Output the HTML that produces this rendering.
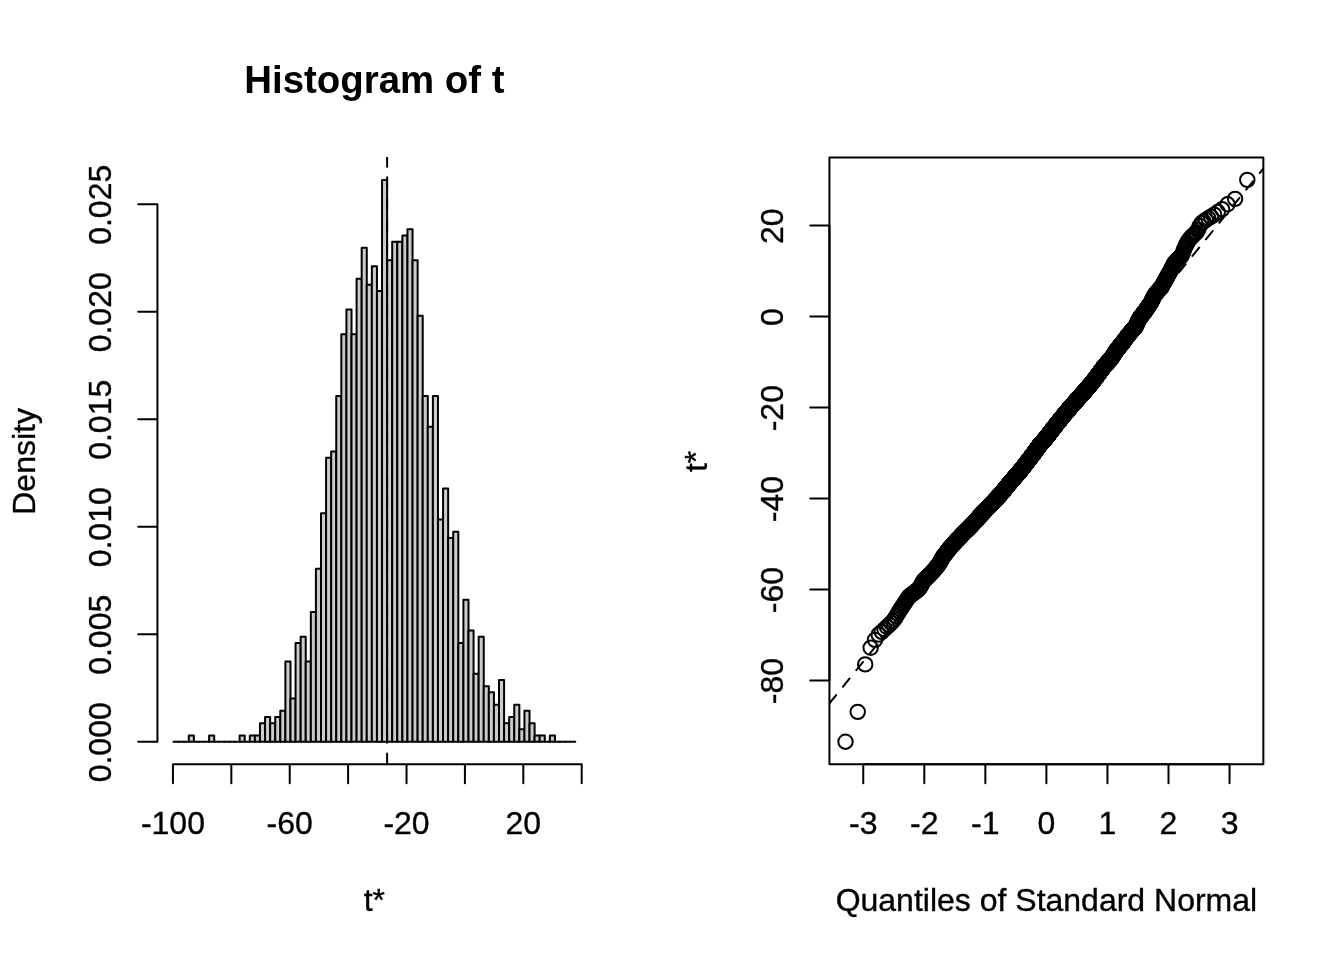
<!DOCTYPE html>
<html lang="en"><head><meta charset="utf-8"><title>Histogram of t</title>
<style>
html,body{margin:0;padding:0;background:#fff;}
body{width:1344px;height:960px;overflow:hidden;}
svg{display:block;}
text{font-family:"Liberation Sans",Arial,Helvetica,sans-serif;font-size:32px;fill:#000;stroke:#000;stroke-width:0.35px;}
.t{font-weight:bold;font-size:38.4px;stroke:none;}
.m{text-anchor:middle;}
.l{fill:none;stroke:#000;stroke-width:2;stroke-linecap:round;stroke-linejoin:round;}
.b{fill:#cbcbcb;stroke:#000;stroke-width:2;stroke-linejoin:round;stroke-linecap:round;}
.d{fill:none;stroke:#000;stroke-width:2;stroke-linecap:round;stroke-dasharray:10.67 10.67;}
.p{fill:none;stroke:#000;stroke-width:2;}
</style></head><body>
<svg width="1344" height="960" viewBox="0 0 1344 960">
<rect width="1344" height="960" fill="#fff"/>
<g id="hist">
<g class="b">
<path d="M173.51 741.69H178.6"/>
<path d="M178.6 741.69H183.68"/>
<path d="M183.68 741.69H188.77"/>
<rect x="188.77" y="735.52" width="5.09" height="6.17"/>
<path d="M193.85 741.69H198.94"/>
<path d="M198.94 741.69H204.03"/>
<path d="M204.03 741.69H209.11"/>
<rect x="209.11" y="735.52" width="5.09" height="6.17"/>
<path d="M214.2 741.69H219.28"/>
<path d="M219.28 741.69H224.37"/>
<path d="M224.37 741.69H229.45"/>
<path d="M229.45 741.69H234.54"/>
<path d="M234.54 741.69H239.63"/>
<rect x="239.63" y="735.52" width="5.09" height="6.17"/>
<path d="M244.71 741.69H249.8"/>
<rect x="249.8" y="735.52" width="5.09" height="6.17"/>
<rect x="254.88" y="735.52" width="5.09" height="6.17"/>
<rect x="259.97" y="723.17" width="5.09" height="18.52"/>
<rect x="265.06" y="717" width="5.09" height="24.69"/>
<rect x="270.14" y="723.17" width="5.09" height="18.52"/>
<rect x="275.23" y="717" width="5.09" height="24.69"/>
<rect x="280.31" y="710.82" width="5.09" height="30.87"/>
<rect x="285.4" y="661.43" width="5.09" height="80.25"/>
<rect x="290.48" y="698.48" width="5.09" height="43.21"/>
<rect x="295.57" y="642.91" width="5.09" height="98.77"/>
<rect x="300.66" y="636.74" width="5.09" height="104.95"/>
<rect x="305.74" y="661.43" width="5.09" height="80.25"/>
<rect x="310.83" y="612.05" width="5.09" height="129.64"/>
<rect x="315.91" y="568.83" width="5.09" height="172.85"/>
<rect x="321" y="513.27" width="5.09" height="228.42"/>
<rect x="326.08" y="457.71" width="5.09" height="283.98"/>
<rect x="331.17" y="451.54" width="5.09" height="290.15"/>
<rect x="336.26" y="395.98" width="5.09" height="345.71"/>
<rect x="341.34" y="334.25" width="5.09" height="407.44"/>
<rect x="346.43" y="309.55" width="5.09" height="432.14"/>
<rect x="351.51" y="334.25" width="5.09" height="407.44"/>
<rect x="356.6" y="278.69" width="5.09" height="463"/>
<rect x="361.69" y="247.82" width="5.09" height="493.87"/>
<rect x="366.77" y="284.86" width="5.09" height="456.83"/>
<rect x="371.86" y="266.34" width="5.09" height="475.35"/>
<rect x="376.94" y="291.03" width="5.09" height="450.66"/>
<rect x="382.03" y="179.91" width="5.09" height="561.78"/>
<rect x="387.11" y="260.17" width="5.09" height="481.52"/>
<rect x="392.2" y="241.64" width="5.09" height="500.04"/>
<rect x="397.29" y="241.64" width="5.09" height="500.04"/>
<rect x="402.37" y="235.47" width="5.09" height="506.22"/>
<rect x="407.46" y="229.3" width="5.09" height="512.39"/>
<rect x="412.54" y="260.17" width="5.09" height="481.52"/>
<rect x="417.63" y="315.73" width="5.09" height="425.96"/>
<rect x="422.72" y="395.98" width="5.09" height="345.71"/>
<rect x="427.8" y="426.85" width="5.09" height="314.84"/>
<rect x="432.89" y="395.98" width="5.09" height="345.71"/>
<rect x="437.97" y="519.45" width="5.09" height="222.24"/>
<rect x="443.06" y="488.58" width="5.09" height="253.11"/>
<rect x="448.14" y="537.97" width="5.09" height="203.72"/>
<rect x="453.23" y="531.79" width="5.09" height="209.89"/>
<rect x="458.32" y="642.91" width="5.09" height="98.77"/>
<rect x="463.4" y="599.7" width="5.09" height="141.99"/>
<rect x="468.49" y="630.57" width="5.09" height="111.12"/>
<rect x="473.57" y="673.78" width="5.09" height="67.91"/>
<rect x="478.66" y="636.74" width="5.09" height="104.95"/>
<rect x="483.74" y="686.13" width="5.09" height="55.56"/>
<rect x="488.83" y="692.3" width="5.09" height="49.39"/>
<rect x="493.92" y="704.65" width="5.09" height="37.04"/>
<rect x="499" y="679.96" width="5.09" height="61.73"/>
<rect x="504.09" y="723.17" width="5.09" height="18.52"/>
<rect x="509.17" y="717" width="5.09" height="24.69"/>
<rect x="514.26" y="704.65" width="5.09" height="37.04"/>
<rect x="519.35" y="729.34" width="5.09" height="12.35"/>
<rect x="524.43" y="710.82" width="5.09" height="30.87"/>
<rect x="529.52" y="723.17" width="5.09" height="18.52"/>
<rect x="534.6" y="735.52" width="5.09" height="6.17"/>
<rect x="539.69" y="735.52" width="5.09" height="6.17"/>
<path d="M544.77 741.69H549.86"/>
<rect x="549.86" y="735.52" width="5.09" height="6.17"/>
<path d="M554.95 741.69H560.03"/>
<path d="M560.03 741.69H565.12"/>
<path d="M565.12 741.69H570.2"/>
<path d="M570.2 741.69H575.29"/>
</g>
<path class="l" d="M172.94 764.16H581.7M172.94 764.16v19.2M231.33 764.16v19.2M289.73 764.16v19.2M348.12 764.16v19.2M406.52 764.16v19.2M464.91 764.16v19.2M523.31 764.16v19.2M581.7 764.16v19.2"/>
<text class="m" x="172.94" y="834.28">-100</text>
<text class="m" x="289.73" y="834.28">-60</text>
<text class="m" x="406.52" y="834.28">-20</text>
<text class="m" x="523.31" y="834.28">20</text>
<path class="l" d="M157.44 741.69V204.2M157.44 741.69h-19.2M157.44 634.19h-19.2M157.44 526.69h-19.2M157.44 419.2h-19.2M157.44 311.7h-19.2M157.44 204.2h-19.2"/>
<text class="m" transform="translate(111.36 742.29) rotate(-90)">0.000</text>
<text class="m" transform="translate(111.36 634.79) rotate(-90)">0.005</text>
<text class="m" transform="translate(111.36 527.29) rotate(-90)">0.010</text>
<text class="m" transform="translate(111.36 419.8) rotate(-90)">0.015</text>
<text class="m" transform="translate(111.36 312.3) rotate(-90)">0.020</text>
<text class="m" transform="translate(111.36 204.8) rotate(-90)">0.025</text>
<clipPath id="ch"><rect x="157.44" y="156.94" width="433.92" height="607.22"/></clipPath>
<path class="d" clip-path="url(#ch)" d="M387.11 764.16V157.44"/>
<text class="m t" x="374.4" y="92.5">Histogram of t</text>
<text class="m" x="374.4" y="911.08">t*</text>
<text class="m" transform="translate(34.56 461.4) rotate(-90)">Density</text>
</g>
<g id="qq">
<g class="p">
<circle cx="845.51" cy="741.69" r="7.2"/>
<circle cx="857.74" cy="711.88" r="7.2"/>
<circle cx="865.22" cy="664.4" r="7.2"/>
<circle cx="870.68" cy="647.77" r="7.2"/>
<circle cx="875.03" cy="639.85" r="7.2"/>
<circle cx="878.64" cy="634.56" r="7.2"/>
<circle cx="881.75" cy="631.92" r="7.2"/>
<circle cx="884.49" cy="629.28" r="7.2"/>
<circle cx="886.93" cy="626.97" r="7.2"/>
<circle cx="889.14" cy="624.99" r="7.2"/>
<circle cx="891.16" cy="623.01" r="7.2"/>
<circle cx="893.03" cy="621.03" r="7.2"/>
<circle cx="894.76" cy="618.72" r="7.2"/>
<circle cx="896.38" cy="616.08" r="7.2"/>
<circle cx="897.9" cy="613.43" r="7.2"/>
<circle cx="899.33" cy="611.12" r="7.2"/>
<circle cx="900.68" cy="609.14" r="7.2"/>
<circle cx="901.97" cy="607.16" r="7.2"/>
<circle cx="903.2" cy="605.18" r="7.2"/>
<circle cx="904.37" cy="603.4" r="7.2"/>
<circle cx="905.49" cy="601.81" r="7.2"/>
<circle cx="906.57" cy="600.23" r="7.2"/>
<circle cx="907.6" cy="598.64" r="7.2"/>
<circle cx="908.59" cy="597.06" r="7.2"/>
<circle cx="909.55" cy="595.96" r="7.2"/>
<circle cx="910.48" cy="595.35" r="7.2"/>
<circle cx="911.38" cy="594.74" r="7.2"/>
<circle cx="912.25" cy="594.13" r="7.2"/>
<circle cx="913.09" cy="593.52" r="7.2"/>
<circle cx="913.91" cy="592.91" r="7.2"/>
<circle cx="914.7" cy="592.3" r="7.2"/>
<circle cx="915.48" cy="591.69" r="7.2"/>
<circle cx="916.23" cy="591.09" r="7.2"/>
<circle cx="916.96" cy="590.48" r="7.2"/>
<circle cx="917.68" cy="589.87" r="7.2"/>
<circle cx="918.37" cy="589.26" r="7.2"/>
<circle cx="919.06" cy="588.65" r="7.2"/>
<circle cx="919.72" cy="587.78" r="7.2"/>
<circle cx="920.37" cy="586.64" r="7.2"/>
<circle cx="921.01" cy="585.51" r="7.2"/>
<circle cx="921.63" cy="584.38" r="7.2"/>
<circle cx="922.24" cy="583.25" r="7.2"/>
<circle cx="922.84" cy="582.12" r="7.2"/>
<circle cx="923.43" cy="580.98" r="7.2"/>
<circle cx="924.01" cy="580.17" r="7.2"/>
<circle cx="924.57" cy="579.68" r="7.2"/>
<circle cx="925.13" cy="579.18" r="7.2"/>
<circle cx="925.67" cy="578.69" r="7.2"/>
<circle cx="926.21" cy="578.19" r="7.2"/>
<circle cx="926.73" cy="577.69" r="7.2"/>
<circle cx="927.25" cy="577.2" r="7.2"/>
<circle cx="927.76" cy="576.7" r="7.2"/>
<circle cx="928.26" cy="576.21" r="7.2"/>
<circle cx="928.76" cy="575.71" r="7.2"/>
<circle cx="929.24" cy="575.22" r="7.2"/>
<circle cx="929.72" cy="574.72" r="7.2"/>
<circle cx="930.19" cy="574.23" r="7.2"/>
<circle cx="930.66" cy="573.73" r="7.2"/>
<circle cx="931.12" cy="573.24" r="7.2"/>
<circle cx="931.57" cy="572.74" r="7.2"/>
<circle cx="932.01" cy="572.26" r="7.2"/>
<circle cx="932.45" cy="571.8" r="7.2"/>
<circle cx="932.89" cy="571.33" r="7.2"/>
<circle cx="933.31" cy="570.86" r="7.2"/>
<circle cx="933.74" cy="570.4" r="7.2"/>
<circle cx="934.15" cy="569.93" r="7.2"/>
<circle cx="934.57" cy="569.47" r="7.2"/>
<circle cx="934.97" cy="569" r="7.2"/>
<circle cx="935.38" cy="568.53" r="7.2"/>
<circle cx="935.77" cy="568.07" r="7.2"/>
<circle cx="936.17" cy="567.6" r="7.2"/>
<circle cx="936.55" cy="567.13" r="7.2"/>
<circle cx="936.94" cy="566.67" r="7.2"/>
<circle cx="937.32" cy="566.2" r="7.2"/>
<circle cx="937.69" cy="565.74" r="7.2"/>
<circle cx="938.06" cy="565.27" r="7.2"/>
<circle cx="938.43" cy="564.8" r="7.2"/>
<circle cx="938.79" cy="564.27" r="7.2"/>
<circle cx="939.15" cy="563.66" r="7.2"/>
<circle cx="939.51" cy="563.05" r="7.2"/>
<circle cx="939.86" cy="562.44" r="7.2"/>
<circle cx="940.21" cy="561.83" r="7.2"/>
<circle cx="940.56" cy="561.22" r="7.2"/>
<circle cx="940.9" cy="560.61" r="7.2"/>
<circle cx="941.24" cy="560" r="7.2"/>
<circle cx="941.57" cy="559.39" r="7.2"/>
<circle cx="941.91" cy="558.78" r="7.2"/>
<circle cx="942.23" cy="558.17" r="7.2"/>
<circle cx="942.56" cy="557.56" r="7.2"/>
<circle cx="942.88" cy="556.95" r="7.2"/>
<circle cx="943.21" cy="556.46" r="7.2"/>
<circle cx="943.52" cy="556.08" r="7.2"/>
<circle cx="943.84" cy="555.7" r="7.2"/>
<circle cx="944.15" cy="555.33" r="7.2"/>
<circle cx="944.46" cy="554.95" r="7.2"/>
<circle cx="944.77" cy="554.57" r="7.2"/>
<circle cx="945.07" cy="554.19" r="7.2"/>
<circle cx="945.37" cy="553.82" r="7.2"/>
<circle cx="945.67" cy="553.44" r="7.2"/>
<circle cx="945.97" cy="553.06" r="7.2"/>
<circle cx="946.26" cy="552.69" r="7.2"/>
<circle cx="946.56" cy="552.31" r="7.2"/>
<circle cx="946.85" cy="551.93" r="7.2"/>
<circle cx="947.14" cy="551.55" r="7.2"/>
<circle cx="947.42" cy="551.18" r="7.2"/>
<circle cx="947.7" cy="550.8" r="7.2"/>
<circle cx="947.99" cy="550.42" r="7.2"/>
<circle cx="948.27" cy="550.04" r="7.2"/>
<circle cx="948.54" cy="549.67" r="7.2"/>
<circle cx="948.82" cy="549.29" r="7.2"/>
<circle cx="949.09" cy="548.91" r="7.2"/>
<circle cx="949.36" cy="548.58" r="7.2"/>
<circle cx="949.63" cy="548.3" r="7.2"/>
<circle cx="949.9" cy="548.02" r="7.2"/>
<circle cx="950.17" cy="547.73" r="7.2"/>
<circle cx="950.43" cy="547.45" r="7.2"/>
<circle cx="950.69" cy="547.17" r="7.2"/>
<circle cx="950.95" cy="546.88" r="7.2"/>
<circle cx="951.21" cy="546.6" r="7.2"/>
<circle cx="951.47" cy="546.32" r="7.2"/>
<circle cx="951.72" cy="546.03" r="7.2"/>
<circle cx="951.98" cy="545.75" r="7.2"/>
<circle cx="952.23" cy="545.47" r="7.2"/>
<circle cx="952.48" cy="545.19" r="7.2"/>
<circle cx="952.73" cy="544.9" r="7.2"/>
<circle cx="952.98" cy="544.62" r="7.2"/>
<circle cx="953.22" cy="544.34" r="7.2"/>
<circle cx="953.47" cy="544.05" r="7.2"/>
<circle cx="953.71" cy="543.77" r="7.2"/>
<circle cx="953.95" cy="543.49" r="7.2"/>
<circle cx="954.19" cy="543.2" r="7.2"/>
<circle cx="954.43" cy="542.92" r="7.2"/>
<circle cx="954.67" cy="542.64" r="7.2"/>
<circle cx="954.9" cy="542.36" r="7.2"/>
<circle cx="955.14" cy="542.07" r="7.2"/>
<circle cx="955.37" cy="541.79" r="7.2"/>
<circle cx="955.6" cy="541.51" r="7.2"/>
<circle cx="955.83" cy="541.22" r="7.2"/>
<circle cx="956.06" cy="540.94" r="7.2"/>
<circle cx="956.29" cy="540.69" r="7.2"/>
<circle cx="956.52" cy="540.48" r="7.2"/>
<circle cx="956.74" cy="540.26" r="7.2"/>
<circle cx="956.97" cy="540.05" r="7.2"/>
<circle cx="957.19" cy="539.84" r="7.2"/>
<circle cx="957.41" cy="539.62" r="7.2"/>
<circle cx="957.63" cy="539.41" r="7.2"/>
<circle cx="957.85" cy="539.19" r="7.2"/>
<circle cx="958.07" cy="538.98" r="7.2"/>
<circle cx="958.29" cy="538.77" r="7.2"/>
<circle cx="958.5" cy="538.55" r="7.2"/>
<circle cx="958.72" cy="538.34" r="7.2"/>
<circle cx="958.93" cy="538.12" r="7.2"/>
<circle cx="959.15" cy="537.91" r="7.2"/>
<circle cx="959.36" cy="537.69" r="7.2"/>
<circle cx="959.57" cy="537.48" r="7.2"/>
<circle cx="959.78" cy="537.27" r="7.2"/>
<circle cx="959.99" cy="537.05" r="7.2"/>
<circle cx="960.19" cy="536.84" r="7.2"/>
<circle cx="960.4" cy="536.62" r="7.2"/>
<circle cx="960.61" cy="536.41" r="7.2"/>
<circle cx="960.81" cy="536.2" r="7.2"/>
<circle cx="961.02" cy="535.98" r="7.2"/>
<circle cx="961.22" cy="535.77" r="7.2"/>
<circle cx="961.42" cy="535.55" r="7.2"/>
<circle cx="961.62" cy="535.34" r="7.2"/>
<circle cx="961.82" cy="535.12" r="7.2"/>
<circle cx="962.02" cy="534.91" r="7.2"/>
<circle cx="962.22" cy="534.7" r="7.2"/>
<circle cx="962.42" cy="534.48" r="7.2"/>
<circle cx="962.61" cy="534.27" r="7.2"/>
<circle cx="962.81" cy="534.05" r="7.2"/>
<circle cx="963" cy="533.84" r="7.2"/>
<circle cx="963.2" cy="533.63" r="7.2"/>
<circle cx="963.39" cy="533.41" r="7.2"/>
<circle cx="963.58" cy="533.2" r="7.2"/>
<circle cx="963.77" cy="532.98" r="7.2"/>
<circle cx="963.97" cy="532.79" r="7.2"/>
<circle cx="964.16" cy="532.62" r="7.2"/>
<circle cx="964.34" cy="532.45" r="7.2"/>
<circle cx="964.53" cy="532.27" r="7.2"/>
<circle cx="964.72" cy="532.1" r="7.2"/>
<circle cx="964.91" cy="531.93" r="7.2"/>
<circle cx="965.09" cy="531.76" r="7.2"/>
<circle cx="965.28" cy="531.58" r="7.2"/>
<circle cx="965.46" cy="531.41" r="7.2"/>
<circle cx="965.65" cy="531.24" r="7.2"/>
<circle cx="965.83" cy="531.07" r="7.2"/>
<circle cx="966.01" cy="530.89" r="7.2"/>
<circle cx="966.19" cy="530.72" r="7.2"/>
<circle cx="966.37" cy="530.55" r="7.2"/>
<circle cx="966.55" cy="530.38" r="7.2"/>
<circle cx="966.73" cy="530.21" r="7.2"/>
<circle cx="966.91" cy="530.03" r="7.2"/>
<circle cx="967.09" cy="529.86" r="7.2"/>
<circle cx="967.27" cy="529.69" r="7.2"/>
<circle cx="967.45" cy="529.52" r="7.2"/>
<circle cx="967.62" cy="529.34" r="7.2"/>
<circle cx="967.8" cy="529.17" r="7.2"/>
<circle cx="967.97" cy="529" r="7.2"/>
<circle cx="968.15" cy="528.83" r="7.2"/>
<circle cx="968.32" cy="528.66" r="7.2"/>
<circle cx="968.49" cy="528.48" r="7.2"/>
<circle cx="968.67" cy="528.31" r="7.2"/>
<circle cx="968.84" cy="528.14" r="7.2"/>
<circle cx="969.01" cy="527.97" r="7.2"/>
<circle cx="969.18" cy="527.79" r="7.2"/>
<circle cx="969.35" cy="527.62" r="7.2"/>
<circle cx="969.52" cy="527.45" r="7.2"/>
<circle cx="969.69" cy="527.28" r="7.2"/>
<circle cx="969.85" cy="527.11" r="7.2"/>
<circle cx="970.02" cy="526.93" r="7.2"/>
<circle cx="970.19" cy="526.76" r="7.2"/>
<circle cx="970.36" cy="526.59" r="7.2"/>
<circle cx="970.52" cy="526.42" r="7.2"/>
<circle cx="970.69" cy="526.24" r="7.2"/>
<circle cx="970.85" cy="526.07" r="7.2"/>
<circle cx="971.02" cy="525.9" r="7.2"/>
<circle cx="971.18" cy="525.73" r="7.2"/>
<circle cx="971.34" cy="525.55" r="7.2"/>
<circle cx="971.5" cy="525.38" r="7.2"/>
<circle cx="971.67" cy="525.21" r="7.2"/>
<circle cx="971.83" cy="525.04" r="7.2"/>
<circle cx="971.99" cy="524.87" r="7.2"/>
<circle cx="972.15" cy="524.7" r="7.2"/>
<circle cx="972.31" cy="524.53" r="7.2"/>
<circle cx="972.47" cy="524.36" r="7.2"/>
<circle cx="972.63" cy="524.19" r="7.2"/>
<circle cx="972.79" cy="524.02" r="7.2"/>
<circle cx="972.94" cy="523.86" r="7.2"/>
<circle cx="973.1" cy="523.69" r="7.2"/>
<circle cx="973.26" cy="523.52" r="7.2"/>
<circle cx="973.42" cy="523.35" r="7.2"/>
<circle cx="973.57" cy="523.18" r="7.2"/>
<circle cx="973.73" cy="523.01" r="7.2"/>
<circle cx="973.88" cy="522.84" r="7.2"/>
<circle cx="974.04" cy="522.68" r="7.2"/>
<circle cx="974.19" cy="522.51" r="7.2"/>
<circle cx="974.34" cy="522.34" r="7.2"/>
<circle cx="974.5" cy="522.17" r="7.2"/>
<circle cx="974.65" cy="522" r="7.2"/>
<circle cx="974.8" cy="521.83" r="7.2"/>
<circle cx="974.96" cy="521.66" r="7.2"/>
<circle cx="975.11" cy="521.5" r="7.2"/>
<circle cx="975.26" cy="521.33" r="7.2"/>
<circle cx="975.41" cy="521.16" r="7.2"/>
<circle cx="975.56" cy="520.99" r="7.2"/>
<circle cx="975.71" cy="520.82" r="7.2"/>
<circle cx="975.86" cy="520.65" r="7.2"/>
<circle cx="976.01" cy="520.48" r="7.2"/>
<circle cx="976.15" cy="520.32" r="7.2"/>
<circle cx="976.3" cy="520.15" r="7.2"/>
<circle cx="976.45" cy="519.98" r="7.2"/>
<circle cx="976.6" cy="519.81" r="7.2"/>
<circle cx="976.74" cy="519.64" r="7.2"/>
<circle cx="976.89" cy="519.47" r="7.2"/>
<circle cx="977.04" cy="519.3" r="7.2"/>
<circle cx="977.18" cy="519.14" r="7.2"/>
<circle cx="977.33" cy="518.97" r="7.2"/>
<circle cx="977.47" cy="518.8" r="7.2"/>
<circle cx="977.62" cy="518.63" r="7.2"/>
<circle cx="977.76" cy="518.46" r="7.2"/>
<circle cx="977.91" cy="518.29" r="7.2"/>
<circle cx="978.05" cy="518.12" r="7.2"/>
<circle cx="978.19" cy="517.96" r="7.2"/>
<circle cx="978.33" cy="517.79" r="7.2"/>
<circle cx="978.48" cy="517.62" r="7.2"/>
<circle cx="978.62" cy="517.45" r="7.2"/>
<circle cx="978.76" cy="517.28" r="7.2"/>
<circle cx="978.9" cy="517.11" r="7.2"/>
<circle cx="979.04" cy="516.96" r="7.2"/>
<circle cx="979.18" cy="516.82" r="7.2"/>
<circle cx="979.32" cy="516.67" r="7.2"/>
<circle cx="979.46" cy="516.53" r="7.2"/>
<circle cx="979.6" cy="516.39" r="7.2"/>
<circle cx="979.74" cy="516.25" r="7.2"/>
<circle cx="979.88" cy="516.11" r="7.2"/>
<circle cx="980.02" cy="515.97" r="7.2"/>
<circle cx="980.15" cy="515.83" r="7.2"/>
<circle cx="980.29" cy="515.68" r="7.2"/>
<circle cx="980.43" cy="515.54" r="7.2"/>
<circle cx="980.57" cy="515.4" r="7.2"/>
<circle cx="980.7" cy="515.26" r="7.2"/>
<circle cx="980.84" cy="515.12" r="7.2"/>
<circle cx="980.98" cy="514.98" r="7.2"/>
<circle cx="981.11" cy="514.83" r="7.2"/>
<circle cx="981.25" cy="514.69" r="7.2"/>
<circle cx="981.38" cy="514.55" r="7.2"/>
<circle cx="981.52" cy="514.41" r="7.2"/>
<circle cx="981.65" cy="514.27" r="7.2"/>
<circle cx="981.78" cy="514.13" r="7.2"/>
<circle cx="981.92" cy="513.99" r="7.2"/>
<circle cx="982.05" cy="513.84" r="7.2"/>
<circle cx="982.18" cy="513.7" r="7.2"/>
<circle cx="982.32" cy="513.56" r="7.2"/>
<circle cx="982.45" cy="513.42" r="7.2"/>
<circle cx="982.58" cy="513.28" r="7.2"/>
<circle cx="982.71" cy="513.14" r="7.2"/>
<circle cx="982.85" cy="513" r="7.2"/>
<circle cx="982.98" cy="512.85" r="7.2"/>
<circle cx="983.11" cy="512.71" r="7.2"/>
<circle cx="983.24" cy="512.57" r="7.2"/>
<circle cx="983.37" cy="512.43" r="7.2"/>
<circle cx="983.5" cy="512.29" r="7.2"/>
<circle cx="983.63" cy="512.15" r="7.2"/>
<circle cx="983.76" cy="512" r="7.2"/>
<circle cx="983.89" cy="511.86" r="7.2"/>
<circle cx="984.02" cy="511.72" r="7.2"/>
<circle cx="984.15" cy="511.58" r="7.2"/>
<circle cx="984.27" cy="511.44" r="7.2"/>
<circle cx="984.4" cy="511.3" r="7.2"/>
<circle cx="984.53" cy="511.16" r="7.2"/>
<circle cx="984.66" cy="511.01" r="7.2"/>
<circle cx="984.79" cy="510.87" r="7.2"/>
<circle cx="984.91" cy="510.73" r="7.2"/>
<circle cx="985.04" cy="510.59" r="7.2"/>
<circle cx="985.17" cy="510.45" r="7.2"/>
<circle cx="985.29" cy="510.31" r="7.2"/>
<circle cx="985.42" cy="510.17" r="7.2"/>
<circle cx="985.54" cy="510.02" r="7.2"/>
<circle cx="985.67" cy="509.88" r="7.2"/>
<circle cx="985.8" cy="509.74" r="7.2"/>
<circle cx="985.92" cy="509.6" r="7.2"/>
<circle cx="986.05" cy="509.46" r="7.2"/>
<circle cx="986.17" cy="509.32" r="7.2"/>
<circle cx="986.29" cy="509.17" r="7.2"/>
<circle cx="986.42" cy="509.04" r="7.2"/>
<circle cx="986.54" cy="508.92" r="7.2"/>
<circle cx="986.67" cy="508.8" r="7.2"/>
<circle cx="986.79" cy="508.68" r="7.2"/>
<circle cx="986.91" cy="508.56" r="7.2"/>
<circle cx="987.03" cy="508.44" r="7.2"/>
<circle cx="987.16" cy="508.32" r="7.2"/>
<circle cx="987.28" cy="508.2" r="7.2"/>
<circle cx="987.4" cy="508.08" r="7.2"/>
<circle cx="987.52" cy="507.96" r="7.2"/>
<circle cx="987.65" cy="507.84" r="7.2"/>
<circle cx="987.77" cy="507.72" r="7.2"/>
<circle cx="987.89" cy="507.6" r="7.2"/>
<circle cx="988.01" cy="507.48" r="7.2"/>
<circle cx="988.13" cy="507.36" r="7.2"/>
<circle cx="988.25" cy="507.24" r="7.2"/>
<circle cx="988.37" cy="507.12" r="7.2"/>
<circle cx="988.49" cy="507" r="7.2"/>
<circle cx="988.61" cy="506.88" r="7.2"/>
<circle cx="988.73" cy="506.76" r="7.2"/>
<circle cx="988.85" cy="506.64" r="7.2"/>
<circle cx="988.97" cy="506.52" r="7.2"/>
<circle cx="989.09" cy="506.4" r="7.2"/>
<circle cx="989.21" cy="506.28" r="7.2"/>
<circle cx="989.32" cy="506.16" r="7.2"/>
<circle cx="989.44" cy="506.04" r="7.2"/>
<circle cx="989.56" cy="505.92" r="7.2"/>
<circle cx="989.68" cy="505.8" r="7.2"/>
<circle cx="989.8" cy="505.68" r="7.2"/>
<circle cx="989.91" cy="505.56" r="7.2"/>
<circle cx="990.03" cy="505.44" r="7.2"/>
<circle cx="990.15" cy="505.32" r="7.2"/>
<circle cx="990.26" cy="505.2" r="7.2"/>
<circle cx="990.38" cy="505.08" r="7.2"/>
<circle cx="990.5" cy="504.96" r="7.2"/>
<circle cx="990.61" cy="504.84" r="7.2"/>
<circle cx="990.73" cy="504.72" r="7.2"/>
<circle cx="990.85" cy="504.6" r="7.2"/>
<circle cx="990.96" cy="504.48" r="7.2"/>
<circle cx="991.08" cy="504.36" r="7.2"/>
<circle cx="991.19" cy="504.24" r="7.2"/>
<circle cx="991.31" cy="504.12" r="7.2"/>
<circle cx="991.42" cy="504" r="7.2"/>
<circle cx="991.54" cy="503.88" r="7.2"/>
<circle cx="991.65" cy="503.76" r="7.2"/>
<circle cx="991.77" cy="503.64" r="7.2"/>
<circle cx="991.88" cy="503.52" r="7.2"/>
<circle cx="991.99" cy="503.4" r="7.2"/>
<circle cx="992.11" cy="503.28" r="7.2"/>
<circle cx="992.22" cy="503.16" r="7.2"/>
<circle cx="992.33" cy="503.04" r="7.2"/>
<circle cx="992.45" cy="502.92" r="7.2"/>
<circle cx="992.56" cy="502.8" r="7.2"/>
<circle cx="992.67" cy="502.68" r="7.2"/>
<circle cx="992.78" cy="502.56" r="7.2"/>
<circle cx="992.9" cy="502.44" r="7.2"/>
<circle cx="993.01" cy="502.32" r="7.2"/>
<circle cx="993.12" cy="502.2" r="7.2"/>
<circle cx="993.23" cy="502.08" r="7.2"/>
<circle cx="993.34" cy="501.96" r="7.2"/>
<circle cx="993.46" cy="501.84" r="7.2"/>
<circle cx="993.57" cy="501.72" r="7.2"/>
<circle cx="993.68" cy="501.6" r="7.2"/>
<circle cx="993.79" cy="501.48" r="7.2"/>
<circle cx="993.9" cy="501.36" r="7.2"/>
<circle cx="994.01" cy="501.24" r="7.2"/>
<circle cx="994.12" cy="501.12" r="7.2"/>
<circle cx="994.23" cy="501.01" r="7.2"/>
<circle cx="994.34" cy="500.9" r="7.2"/>
<circle cx="994.45" cy="500.78" r="7.2"/>
<circle cx="994.56" cy="500.67" r="7.2"/>
<circle cx="994.67" cy="500.56" r="7.2"/>
<circle cx="994.78" cy="500.44" r="7.2"/>
<circle cx="994.89" cy="500.33" r="7.2"/>
<circle cx="995" cy="500.22" r="7.2"/>
<circle cx="995.11" cy="500.11" r="7.2"/>
<circle cx="995.22" cy="499.99" r="7.2"/>
<circle cx="995.33" cy="499.88" r="7.2"/>
<circle cx="995.43" cy="499.77" r="7.2"/>
<circle cx="995.54" cy="499.65" r="7.2"/>
<circle cx="995.65" cy="499.54" r="7.2"/>
<circle cx="995.76" cy="499.43" r="7.2"/>
<circle cx="995.87" cy="499.31" r="7.2"/>
<circle cx="995.97" cy="499.2" r="7.2"/>
<circle cx="996.08" cy="499.09" r="7.2"/>
<circle cx="996.19" cy="498.97" r="7.2"/>
<circle cx="996.3" cy="498.86" r="7.2"/>
<circle cx="996.4" cy="498.75" r="7.2"/>
<circle cx="996.51" cy="498.63" r="7.2"/>
<circle cx="996.62" cy="498.52" r="7.2"/>
<circle cx="996.72" cy="498.41" r="7.2"/>
<circle cx="996.83" cy="498.29" r="7.2"/>
<circle cx="996.94" cy="498.18" r="7.2"/>
<circle cx="997.04" cy="498.07" r="7.2"/>
<circle cx="997.15" cy="497.95" r="7.2"/>
<circle cx="997.25" cy="497.84" r="7.2"/>
<circle cx="997.36" cy="497.73" r="7.2"/>
<circle cx="997.46" cy="497.61" r="7.2"/>
<circle cx="997.57" cy="497.5" r="7.2"/>
<circle cx="997.67" cy="497.39" r="7.2"/>
<circle cx="997.78" cy="497.28" r="7.2"/>
<circle cx="997.88" cy="497.16" r="7.2"/>
<circle cx="997.99" cy="497.05" r="7.2"/>
<circle cx="998.09" cy="496.94" r="7.2"/>
<circle cx="998.2" cy="496.82" r="7.2"/>
<circle cx="998.3" cy="496.71" r="7.2"/>
<circle cx="998.41" cy="496.6" r="7.2"/>
<circle cx="998.51" cy="496.48" r="7.2"/>
<circle cx="998.62" cy="496.37" r="7.2"/>
<circle cx="998.72" cy="496.26" r="7.2"/>
<circle cx="998.82" cy="496.14" r="7.2"/>
<circle cx="998.93" cy="496.03" r="7.2"/>
<circle cx="999.03" cy="495.92" r="7.2"/>
<circle cx="999.13" cy="495.8" r="7.2"/>
<circle cx="999.24" cy="495.69" r="7.2"/>
<circle cx="999.34" cy="495.58" r="7.2"/>
<circle cx="999.44" cy="495.46" r="7.2"/>
<circle cx="999.55" cy="495.35" r="7.2"/>
<circle cx="999.65" cy="495.24" r="7.2"/>
<circle cx="999.75" cy="495.12" r="7.2"/>
<circle cx="999.85" cy="495.01" r="7.2"/>
<circle cx="999.95" cy="494.9" r="7.2"/>
<circle cx="1000.06" cy="494.78" r="7.2"/>
<circle cx="1000.16" cy="494.67" r="7.2"/>
<circle cx="1000.26" cy="494.56" r="7.2"/>
<circle cx="1000.36" cy="494.45" r="7.2"/>
<circle cx="1000.46" cy="494.33" r="7.2"/>
<circle cx="1000.57" cy="494.22" r="7.2"/>
<circle cx="1000.67" cy="494.11" r="7.2"/>
<circle cx="1000.77" cy="493.99" r="7.2"/>
<circle cx="1000.87" cy="493.88" r="7.2"/>
<circle cx="1000.97" cy="493.77" r="7.2"/>
<circle cx="1001.07" cy="493.65" r="7.2"/>
<circle cx="1001.17" cy="493.54" r="7.2"/>
<circle cx="1001.27" cy="493.43" r="7.2"/>
<circle cx="1001.37" cy="493.31" r="7.2"/>
<circle cx="1001.47" cy="493.2" r="7.2"/>
<circle cx="1001.57" cy="493.08" r="7.2"/>
<circle cx="1001.67" cy="492.96" r="7.2"/>
<circle cx="1001.77" cy="492.84" r="7.2"/>
<circle cx="1001.87" cy="492.72" r="7.2"/>
<circle cx="1001.97" cy="492.6" r="7.2"/>
<circle cx="1002.07" cy="492.48" r="7.2"/>
<circle cx="1002.17" cy="492.36" r="7.2"/>
<circle cx="1002.27" cy="492.24" r="7.2"/>
<circle cx="1002.37" cy="492.12" r="7.2"/>
<circle cx="1002.47" cy="492" r="7.2"/>
<circle cx="1002.57" cy="491.88" r="7.2"/>
<circle cx="1002.67" cy="491.76" r="7.2"/>
<circle cx="1002.77" cy="491.64" r="7.2"/>
<circle cx="1002.86" cy="491.52" r="7.2"/>
<circle cx="1002.96" cy="491.4" r="7.2"/>
<circle cx="1003.06" cy="491.28" r="7.2"/>
<circle cx="1003.16" cy="491.16" r="7.2"/>
<circle cx="1003.26" cy="491.04" r="7.2"/>
<circle cx="1003.36" cy="490.92" r="7.2"/>
<circle cx="1003.45" cy="490.8" r="7.2"/>
<circle cx="1003.55" cy="490.68" r="7.2"/>
<circle cx="1003.65" cy="490.56" r="7.2"/>
<circle cx="1003.75" cy="490.44" r="7.2"/>
<circle cx="1003.85" cy="490.32" r="7.2"/>
<circle cx="1003.94" cy="490.2" r="7.2"/>
<circle cx="1004.04" cy="490.08" r="7.2"/>
<circle cx="1004.14" cy="489.96" r="7.2"/>
<circle cx="1004.23" cy="489.83" r="7.2"/>
<circle cx="1004.33" cy="489.71" r="7.2"/>
<circle cx="1004.43" cy="489.59" r="7.2"/>
<circle cx="1004.52" cy="489.47" r="7.2"/>
<circle cx="1004.62" cy="489.35" r="7.2"/>
<circle cx="1004.72" cy="489.23" r="7.2"/>
<circle cx="1004.81" cy="489.11" r="7.2"/>
<circle cx="1004.91" cy="488.99" r="7.2"/>
<circle cx="1005.01" cy="488.87" r="7.2"/>
<circle cx="1005.1" cy="488.75" r="7.2"/>
<circle cx="1005.2" cy="488.63" r="7.2"/>
<circle cx="1005.3" cy="488.51" r="7.2"/>
<circle cx="1005.39" cy="488.39" r="7.2"/>
<circle cx="1005.49" cy="488.27" r="7.2"/>
<circle cx="1005.58" cy="488.15" r="7.2"/>
<circle cx="1005.68" cy="488.03" r="7.2"/>
<circle cx="1005.77" cy="487.91" r="7.2"/>
<circle cx="1005.87" cy="487.79" r="7.2"/>
<circle cx="1005.96" cy="487.67" r="7.2"/>
<circle cx="1006.06" cy="487.55" r="7.2"/>
<circle cx="1006.16" cy="487.43" r="7.2"/>
<circle cx="1006.25" cy="487.31" r="7.2"/>
<circle cx="1006.34" cy="487.19" r="7.2"/>
<circle cx="1006.44" cy="487.07" r="7.2"/>
<circle cx="1006.53" cy="486.95" r="7.2"/>
<circle cx="1006.63" cy="486.83" r="7.2"/>
<circle cx="1006.72" cy="486.71" r="7.2"/>
<circle cx="1006.82" cy="486.59" r="7.2"/>
<circle cx="1006.91" cy="486.47" r="7.2"/>
<circle cx="1007.01" cy="486.35" r="7.2"/>
<circle cx="1007.1" cy="486.23" r="7.2"/>
<circle cx="1007.19" cy="486.11" r="7.2"/>
<circle cx="1007.29" cy="485.99" r="7.2"/>
<circle cx="1007.38" cy="485.87" r="7.2"/>
<circle cx="1007.48" cy="485.75" r="7.2"/>
<circle cx="1007.57" cy="485.63" r="7.2"/>
<circle cx="1007.66" cy="485.51" r="7.2"/>
<circle cx="1007.76" cy="485.39" r="7.2"/>
<circle cx="1007.85" cy="485.28" r="7.2"/>
<circle cx="1007.94" cy="485.17" r="7.2"/>
<circle cx="1008.04" cy="485.07" r="7.2"/>
<circle cx="1008.13" cy="484.96" r="7.2"/>
<circle cx="1008.22" cy="484.86" r="7.2"/>
<circle cx="1008.32" cy="484.75" r="7.2"/>
<circle cx="1008.41" cy="484.65" r="7.2"/>
<circle cx="1008.5" cy="484.54" r="7.2"/>
<circle cx="1008.59" cy="484.43" r="7.2"/>
<circle cx="1008.69" cy="484.33" r="7.2"/>
<circle cx="1008.78" cy="484.22" r="7.2"/>
<circle cx="1008.87" cy="484.12" r="7.2"/>
<circle cx="1008.96" cy="484.01" r="7.2"/>
<circle cx="1009.06" cy="483.91" r="7.2"/>
<circle cx="1009.15" cy="483.8" r="7.2"/>
<circle cx="1009.24" cy="483.7" r="7.2"/>
<circle cx="1009.33" cy="483.59" r="7.2"/>
<circle cx="1009.42" cy="483.48" r="7.2"/>
<circle cx="1009.52" cy="483.38" r="7.2"/>
<circle cx="1009.61" cy="483.27" r="7.2"/>
<circle cx="1009.7" cy="483.17" r="7.2"/>
<circle cx="1009.79" cy="483.06" r="7.2"/>
<circle cx="1009.88" cy="482.96" r="7.2"/>
<circle cx="1009.97" cy="482.85" r="7.2"/>
<circle cx="1010.07" cy="482.74" r="7.2"/>
<circle cx="1010.16" cy="482.64" r="7.2"/>
<circle cx="1010.25" cy="482.53" r="7.2"/>
<circle cx="1010.34" cy="482.43" r="7.2"/>
<circle cx="1010.43" cy="482.32" r="7.2"/>
<circle cx="1010.52" cy="482.22" r="7.2"/>
<circle cx="1010.61" cy="482.11" r="7.2"/>
<circle cx="1010.7" cy="482" r="7.2"/>
<circle cx="1010.79" cy="481.9" r="7.2"/>
<circle cx="1010.88" cy="481.79" r="7.2"/>
<circle cx="1010.97" cy="481.69" r="7.2"/>
<circle cx="1011.06" cy="481.58" r="7.2"/>
<circle cx="1011.16" cy="481.48" r="7.2"/>
<circle cx="1011.25" cy="481.37" r="7.2"/>
<circle cx="1011.34" cy="481.27" r="7.2"/>
<circle cx="1011.43" cy="481.16" r="7.2"/>
<circle cx="1011.52" cy="481.05" r="7.2"/>
<circle cx="1011.61" cy="480.95" r="7.2"/>
<circle cx="1011.7" cy="480.84" r="7.2"/>
<circle cx="1011.79" cy="480.74" r="7.2"/>
<circle cx="1011.88" cy="480.63" r="7.2"/>
<circle cx="1011.97" cy="480.53" r="7.2"/>
<circle cx="1012.05" cy="480.42" r="7.2"/>
<circle cx="1012.14" cy="480.31" r="7.2"/>
<circle cx="1012.23" cy="480.21" r="7.2"/>
<circle cx="1012.32" cy="480.1" r="7.2"/>
<circle cx="1012.41" cy="480" r="7.2"/>
<circle cx="1012.5" cy="479.89" r="7.2"/>
<circle cx="1012.59" cy="479.79" r="7.2"/>
<circle cx="1012.68" cy="479.68" r="7.2"/>
<circle cx="1012.77" cy="479.57" r="7.2"/>
<circle cx="1012.86" cy="479.47" r="7.2"/>
<circle cx="1012.95" cy="479.36" r="7.2"/>
<circle cx="1013.04" cy="479.26" r="7.2"/>
<circle cx="1013.12" cy="479.15" r="7.2"/>
<circle cx="1013.21" cy="479.05" r="7.2"/>
<circle cx="1013.3" cy="478.94" r="7.2"/>
<circle cx="1013.39" cy="478.84" r="7.2"/>
<circle cx="1013.48" cy="478.73" r="7.2"/>
<circle cx="1013.57" cy="478.62" r="7.2"/>
<circle cx="1013.66" cy="478.52" r="7.2"/>
<circle cx="1013.74" cy="478.41" r="7.2"/>
<circle cx="1013.83" cy="478.31" r="7.2"/>
<circle cx="1013.92" cy="478.2" r="7.2"/>
<circle cx="1014.01" cy="478.1" r="7.2"/>
<circle cx="1014.1" cy="477.99" r="7.2"/>
<circle cx="1014.18" cy="477.88" r="7.2"/>
<circle cx="1014.27" cy="477.78" r="7.2"/>
<circle cx="1014.36" cy="477.67" r="7.2"/>
<circle cx="1014.45" cy="477.57" r="7.2"/>
<circle cx="1014.54" cy="477.46" r="7.2"/>
<circle cx="1014.62" cy="477.36" r="7.2"/>
<circle cx="1014.71" cy="477.26" r="7.2"/>
<circle cx="1014.8" cy="477.16" r="7.2"/>
<circle cx="1014.89" cy="477.06" r="7.2"/>
<circle cx="1014.97" cy="476.96" r="7.2"/>
<circle cx="1015.06" cy="476.86" r="7.2"/>
<circle cx="1015.15" cy="476.77" r="7.2"/>
<circle cx="1015.23" cy="476.67" r="7.2"/>
<circle cx="1015.32" cy="476.57" r="7.2"/>
<circle cx="1015.41" cy="476.47" r="7.2"/>
<circle cx="1015.5" cy="476.37" r="7.2"/>
<circle cx="1015.58" cy="476.27" r="7.2"/>
<circle cx="1015.67" cy="476.17" r="7.2"/>
<circle cx="1015.76" cy="476.07" r="7.2"/>
<circle cx="1015.84" cy="475.97" r="7.2"/>
<circle cx="1015.93" cy="475.87" r="7.2"/>
<circle cx="1016.02" cy="475.77" r="7.2"/>
<circle cx="1016.1" cy="475.68" r="7.2"/>
<circle cx="1016.19" cy="475.58" r="7.2"/>
<circle cx="1016.28" cy="475.48" r="7.2"/>
<circle cx="1016.36" cy="475.38" r="7.2"/>
<circle cx="1016.45" cy="475.28" r="7.2"/>
<circle cx="1016.53" cy="475.18" r="7.2"/>
<circle cx="1016.62" cy="475.08" r="7.2"/>
<circle cx="1016.71" cy="474.98" r="7.2"/>
<circle cx="1016.79" cy="474.88" r="7.2"/>
<circle cx="1016.88" cy="474.78" r="7.2"/>
<circle cx="1016.96" cy="474.69" r="7.2"/>
<circle cx="1017.05" cy="474.59" r="7.2"/>
<circle cx="1017.14" cy="474.49" r="7.2"/>
<circle cx="1017.22" cy="474.39" r="7.2"/>
<circle cx="1017.31" cy="474.29" r="7.2"/>
<circle cx="1017.39" cy="474.19" r="7.2"/>
<circle cx="1017.48" cy="474.09" r="7.2"/>
<circle cx="1017.56" cy="473.99" r="7.2"/>
<circle cx="1017.65" cy="473.89" r="7.2"/>
<circle cx="1017.74" cy="473.79" r="7.2"/>
<circle cx="1017.82" cy="473.69" r="7.2"/>
<circle cx="1017.91" cy="473.6" r="7.2"/>
<circle cx="1017.99" cy="473.5" r="7.2"/>
<circle cx="1018.08" cy="473.4" r="7.2"/>
<circle cx="1018.16" cy="473.3" r="7.2"/>
<circle cx="1018.25" cy="473.2" r="7.2"/>
<circle cx="1018.33" cy="473.1" r="7.2"/>
<circle cx="1018.42" cy="473" r="7.2"/>
<circle cx="1018.5" cy="472.9" r="7.2"/>
<circle cx="1018.59" cy="472.8" r="7.2"/>
<circle cx="1018.67" cy="472.7" r="7.2"/>
<circle cx="1018.76" cy="472.61" r="7.2"/>
<circle cx="1018.84" cy="472.51" r="7.2"/>
<circle cx="1018.93" cy="472.41" r="7.2"/>
<circle cx="1019.01" cy="472.31" r="7.2"/>
<circle cx="1019.09" cy="472.21" r="7.2"/>
<circle cx="1019.18" cy="472.11" r="7.2"/>
<circle cx="1019.26" cy="472.01" r="7.2"/>
<circle cx="1019.35" cy="471.91" r="7.2"/>
<circle cx="1019.43" cy="471.81" r="7.2"/>
<circle cx="1019.52" cy="471.71" r="7.2"/>
<circle cx="1019.6" cy="471.61" r="7.2"/>
<circle cx="1019.68" cy="471.52" r="7.2"/>
<circle cx="1019.77" cy="471.42" r="7.2"/>
<circle cx="1019.85" cy="471.32" r="7.2"/>
<circle cx="1019.94" cy="471.22" r="7.2"/>
<circle cx="1020.02" cy="471.12" r="7.2"/>
<circle cx="1020.1" cy="471.02" r="7.2"/>
<circle cx="1020.19" cy="470.92" r="7.2"/>
<circle cx="1020.27" cy="470.82" r="7.2"/>
<circle cx="1020.36" cy="470.72" r="7.2"/>
<circle cx="1020.44" cy="470.62" r="7.2"/>
<circle cx="1020.52" cy="470.53" r="7.2"/>
<circle cx="1020.61" cy="470.43" r="7.2"/>
<circle cx="1020.69" cy="470.33" r="7.2"/>
<circle cx="1020.77" cy="470.23" r="7.2"/>
<circle cx="1020.86" cy="470.13" r="7.2"/>
<circle cx="1020.94" cy="470.03" r="7.2"/>
<circle cx="1021.02" cy="469.93" r="7.2"/>
<circle cx="1021.11" cy="469.83" r="7.2"/>
<circle cx="1021.19" cy="469.73" r="7.2"/>
<circle cx="1021.27" cy="469.63" r="7.2"/>
<circle cx="1021.36" cy="469.53" r="7.2"/>
<circle cx="1021.44" cy="469.43" r="7.2"/>
<circle cx="1021.52" cy="469.32" r="7.2"/>
<circle cx="1021.61" cy="469.22" r="7.2"/>
<circle cx="1021.69" cy="469.11" r="7.2"/>
<circle cx="1021.77" cy="469" r="7.2"/>
<circle cx="1021.86" cy="468.9" r="7.2"/>
<circle cx="1021.94" cy="468.79" r="7.2"/>
<circle cx="1022.02" cy="468.68" r="7.2"/>
<circle cx="1022.1" cy="468.58" r="7.2"/>
<circle cx="1022.19" cy="468.47" r="7.2"/>
<circle cx="1022.27" cy="468.36" r="7.2"/>
<circle cx="1022.35" cy="468.25" r="7.2"/>
<circle cx="1022.44" cy="468.15" r="7.2"/>
<circle cx="1022.52" cy="468.04" r="7.2"/>
<circle cx="1022.6" cy="467.93" r="7.2"/>
<circle cx="1022.68" cy="467.83" r="7.2"/>
<circle cx="1022.77" cy="467.72" r="7.2"/>
<circle cx="1022.85" cy="467.61" r="7.2"/>
<circle cx="1022.93" cy="467.5" r="7.2"/>
<circle cx="1023.01" cy="467.4" r="7.2"/>
<circle cx="1023.1" cy="467.29" r="7.2"/>
<circle cx="1023.18" cy="467.18" r="7.2"/>
<circle cx="1023.26" cy="467.08" r="7.2"/>
<circle cx="1023.34" cy="466.97" r="7.2"/>
<circle cx="1023.42" cy="466.86" r="7.2"/>
<circle cx="1023.51" cy="466.75" r="7.2"/>
<circle cx="1023.59" cy="466.65" r="7.2"/>
<circle cx="1023.67" cy="466.54" r="7.2"/>
<circle cx="1023.75" cy="466.43" r="7.2"/>
<circle cx="1023.83" cy="466.33" r="7.2"/>
<circle cx="1023.92" cy="466.22" r="7.2"/>
<circle cx="1024" cy="466.11" r="7.2"/>
<circle cx="1024.08" cy="466.01" r="7.2"/>
<circle cx="1024.16" cy="465.9" r="7.2"/>
<circle cx="1024.24" cy="465.79" r="7.2"/>
<circle cx="1024.32" cy="465.68" r="7.2"/>
<circle cx="1024.41" cy="465.58" r="7.2"/>
<circle cx="1024.49" cy="465.47" r="7.2"/>
<circle cx="1024.57" cy="465.36" r="7.2"/>
<circle cx="1024.65" cy="465.26" r="7.2"/>
<circle cx="1024.73" cy="465.15" r="7.2"/>
<circle cx="1024.81" cy="465.04" r="7.2"/>
<circle cx="1024.89" cy="464.93" r="7.2"/>
<circle cx="1024.98" cy="464.83" r="7.2"/>
<circle cx="1025.06" cy="464.72" r="7.2"/>
<circle cx="1025.14" cy="464.61" r="7.2"/>
<circle cx="1025.22" cy="464.51" r="7.2"/>
<circle cx="1025.3" cy="464.4" r="7.2"/>
<circle cx="1025.38" cy="464.29" r="7.2"/>
<circle cx="1025.46" cy="464.18" r="7.2"/>
<circle cx="1025.54" cy="464.08" r="7.2"/>
<circle cx="1025.63" cy="463.97" r="7.2"/>
<circle cx="1025.71" cy="463.86" r="7.2"/>
<circle cx="1025.79" cy="463.76" r="7.2"/>
<circle cx="1025.87" cy="463.65" r="7.2"/>
<circle cx="1025.95" cy="463.54" r="7.2"/>
<circle cx="1026.03" cy="463.44" r="7.2"/>
<circle cx="1026.11" cy="463.33" r="7.2"/>
<circle cx="1026.19" cy="463.22" r="7.2"/>
<circle cx="1026.27" cy="463.11" r="7.2"/>
<circle cx="1026.35" cy="463.01" r="7.2"/>
<circle cx="1026.43" cy="462.9" r="7.2"/>
<circle cx="1026.51" cy="462.79" r="7.2"/>
<circle cx="1026.6" cy="462.69" r="7.2"/>
<circle cx="1026.68" cy="462.58" r="7.2"/>
<circle cx="1026.76" cy="462.47" r="7.2"/>
<circle cx="1026.84" cy="462.36" r="7.2"/>
<circle cx="1026.92" cy="462.26" r="7.2"/>
<circle cx="1027" cy="462.15" r="7.2"/>
<circle cx="1027.08" cy="462.04" r="7.2"/>
<circle cx="1027.16" cy="461.94" r="7.2"/>
<circle cx="1027.24" cy="461.83" r="7.2"/>
<circle cx="1027.32" cy="461.72" r="7.2"/>
<circle cx="1027.4" cy="461.61" r="7.2"/>
<circle cx="1027.48" cy="461.51" r="7.2"/>
<circle cx="1027.56" cy="461.41" r="7.2"/>
<circle cx="1027.64" cy="461.3" r="7.2"/>
<circle cx="1027.72" cy="461.2" r="7.2"/>
<circle cx="1027.8" cy="461.1" r="7.2"/>
<circle cx="1027.88" cy="461" r="7.2"/>
<circle cx="1027.96" cy="460.89" r="7.2"/>
<circle cx="1028.04" cy="460.79" r="7.2"/>
<circle cx="1028.12" cy="460.69" r="7.2"/>
<circle cx="1028.2" cy="460.58" r="7.2"/>
<circle cx="1028.28" cy="460.48" r="7.2"/>
<circle cx="1028.36" cy="460.38" r="7.2"/>
<circle cx="1028.44" cy="460.28" r="7.2"/>
<circle cx="1028.52" cy="460.17" r="7.2"/>
<circle cx="1028.6" cy="460.07" r="7.2"/>
<circle cx="1028.68" cy="459.97" r="7.2"/>
<circle cx="1028.76" cy="459.86" r="7.2"/>
<circle cx="1028.84" cy="459.76" r="7.2"/>
<circle cx="1028.92" cy="459.66" r="7.2"/>
<circle cx="1029" cy="459.55" r="7.2"/>
<circle cx="1029.08" cy="459.45" r="7.2"/>
<circle cx="1029.16" cy="459.35" r="7.2"/>
<circle cx="1029.24" cy="459.25" r="7.2"/>
<circle cx="1029.32" cy="459.14" r="7.2"/>
<circle cx="1029.4" cy="459.04" r="7.2"/>
<circle cx="1029.48" cy="458.94" r="7.2"/>
<circle cx="1029.56" cy="458.83" r="7.2"/>
<circle cx="1029.63" cy="458.73" r="7.2"/>
<circle cx="1029.71" cy="458.63" r="7.2"/>
<circle cx="1029.79" cy="458.53" r="7.2"/>
<circle cx="1029.87" cy="458.42" r="7.2"/>
<circle cx="1029.95" cy="458.32" r="7.2"/>
<circle cx="1030.03" cy="458.22" r="7.2"/>
<circle cx="1030.11" cy="458.11" r="7.2"/>
<circle cx="1030.19" cy="458.01" r="7.2"/>
<circle cx="1030.27" cy="457.91" r="7.2"/>
<circle cx="1030.35" cy="457.81" r="7.2"/>
<circle cx="1030.43" cy="457.7" r="7.2"/>
<circle cx="1030.51" cy="457.6" r="7.2"/>
<circle cx="1030.59" cy="457.5" r="7.2"/>
<circle cx="1030.67" cy="457.39" r="7.2"/>
<circle cx="1030.74" cy="457.29" r="7.2"/>
<circle cx="1030.82" cy="457.19" r="7.2"/>
<circle cx="1030.9" cy="457.08" r="7.2"/>
<circle cx="1030.98" cy="456.98" r="7.2"/>
<circle cx="1031.06" cy="456.88" r="7.2"/>
<circle cx="1031.14" cy="456.78" r="7.2"/>
<circle cx="1031.22" cy="456.67" r="7.2"/>
<circle cx="1031.3" cy="456.57" r="7.2"/>
<circle cx="1031.38" cy="456.47" r="7.2"/>
<circle cx="1031.45" cy="456.36" r="7.2"/>
<circle cx="1031.53" cy="456.26" r="7.2"/>
<circle cx="1031.61" cy="456.16" r="7.2"/>
<circle cx="1031.69" cy="456.06" r="7.2"/>
<circle cx="1031.77" cy="455.95" r="7.2"/>
<circle cx="1031.85" cy="455.85" r="7.2"/>
<circle cx="1031.93" cy="455.75" r="7.2"/>
<circle cx="1032.01" cy="455.64" r="7.2"/>
<circle cx="1032.08" cy="455.54" r="7.2"/>
<circle cx="1032.16" cy="455.44" r="7.2"/>
<circle cx="1032.24" cy="455.34" r="7.2"/>
<circle cx="1032.32" cy="455.23" r="7.2"/>
<circle cx="1032.4" cy="455.13" r="7.2"/>
<circle cx="1032.48" cy="455.03" r="7.2"/>
<circle cx="1032.56" cy="454.92" r="7.2"/>
<circle cx="1032.63" cy="454.82" r="7.2"/>
<circle cx="1032.71" cy="454.72" r="7.2"/>
<circle cx="1032.79" cy="454.62" r="7.2"/>
<circle cx="1032.87" cy="454.51" r="7.2"/>
<circle cx="1032.95" cy="454.41" r="7.2"/>
<circle cx="1033.03" cy="454.31" r="7.2"/>
<circle cx="1033.1" cy="454.2" r="7.2"/>
<circle cx="1033.18" cy="454.1" r="7.2"/>
<circle cx="1033.26" cy="454" r="7.2"/>
<circle cx="1033.34" cy="453.89" r="7.2"/>
<circle cx="1033.42" cy="453.79" r="7.2"/>
<circle cx="1033.5" cy="453.69" r="7.2"/>
<circle cx="1033.57" cy="453.58" r="7.2"/>
<circle cx="1033.65" cy="453.47" r="7.2"/>
<circle cx="1033.73" cy="453.37" r="7.2"/>
<circle cx="1033.81" cy="453.26" r="7.2"/>
<circle cx="1033.89" cy="453.15" r="7.2"/>
<circle cx="1033.96" cy="453.04" r="7.2"/>
<circle cx="1034.04" cy="452.93" r="7.2"/>
<circle cx="1034.12" cy="452.82" r="7.2"/>
<circle cx="1034.2" cy="452.71" r="7.2"/>
<circle cx="1034.28" cy="452.61" r="7.2"/>
<circle cx="1034.35" cy="452.5" r="7.2"/>
<circle cx="1034.43" cy="452.39" r="7.2"/>
<circle cx="1034.51" cy="452.28" r="7.2"/>
<circle cx="1034.59" cy="452.17" r="7.2"/>
<circle cx="1034.67" cy="452.06" r="7.2"/>
<circle cx="1034.74" cy="451.96" r="7.2"/>
<circle cx="1034.82" cy="451.85" r="7.2"/>
<circle cx="1034.9" cy="451.74" r="7.2"/>
<circle cx="1034.98" cy="451.63" r="7.2"/>
<circle cx="1035.06" cy="451.52" r="7.2"/>
<circle cx="1035.13" cy="451.41" r="7.2"/>
<circle cx="1035.21" cy="451.3" r="7.2"/>
<circle cx="1035.29" cy="451.2" r="7.2"/>
<circle cx="1035.37" cy="451.09" r="7.2"/>
<circle cx="1035.44" cy="450.98" r="7.2"/>
<circle cx="1035.52" cy="450.87" r="7.2"/>
<circle cx="1035.6" cy="450.76" r="7.2"/>
<circle cx="1035.68" cy="450.65" r="7.2"/>
<circle cx="1035.75" cy="450.54" r="7.2"/>
<circle cx="1035.83" cy="450.44" r="7.2"/>
<circle cx="1035.91" cy="450.33" r="7.2"/>
<circle cx="1035.99" cy="450.22" r="7.2"/>
<circle cx="1036.07" cy="450.11" r="7.2"/>
<circle cx="1036.14" cy="450" r="7.2"/>
<circle cx="1036.22" cy="449.89" r="7.2"/>
<circle cx="1036.3" cy="449.78" r="7.2"/>
<circle cx="1036.38" cy="449.68" r="7.2"/>
<circle cx="1036.45" cy="449.57" r="7.2"/>
<circle cx="1036.53" cy="449.46" r="7.2"/>
<circle cx="1036.61" cy="449.35" r="7.2"/>
<circle cx="1036.69" cy="449.24" r="7.2"/>
<circle cx="1036.76" cy="449.13" r="7.2"/>
<circle cx="1036.84" cy="449.02" r="7.2"/>
<circle cx="1036.92" cy="448.92" r="7.2"/>
<circle cx="1036.99" cy="448.81" r="7.2"/>
<circle cx="1037.07" cy="448.7" r="7.2"/>
<circle cx="1037.15" cy="448.59" r="7.2"/>
<circle cx="1037.23" cy="448.48" r="7.2"/>
<circle cx="1037.3" cy="448.37" r="7.2"/>
<circle cx="1037.38" cy="448.26" r="7.2"/>
<circle cx="1037.46" cy="448.16" r="7.2"/>
<circle cx="1037.54" cy="448.05" r="7.2"/>
<circle cx="1037.61" cy="447.94" r="7.2"/>
<circle cx="1037.69" cy="447.83" r="7.2"/>
<circle cx="1037.77" cy="447.72" r="7.2"/>
<circle cx="1037.85" cy="447.61" r="7.2"/>
<circle cx="1037.92" cy="447.5" r="7.2"/>
<circle cx="1038" cy="447.4" r="7.2"/>
<circle cx="1038.08" cy="447.29" r="7.2"/>
<circle cx="1038.15" cy="447.18" r="7.2"/>
<circle cx="1038.23" cy="447.07" r="7.2"/>
<circle cx="1038.31" cy="446.96" r="7.2"/>
<circle cx="1038.39" cy="446.85" r="7.2"/>
<circle cx="1038.46" cy="446.74" r="7.2"/>
<circle cx="1038.54" cy="446.64" r="7.2"/>
<circle cx="1038.62" cy="446.53" r="7.2"/>
<circle cx="1038.69" cy="446.42" r="7.2"/>
<circle cx="1038.77" cy="446.31" r="7.2"/>
<circle cx="1038.85" cy="446.2" r="7.2"/>
<circle cx="1038.93" cy="446.09" r="7.2"/>
<circle cx="1039" cy="445.99" r="7.2"/>
<circle cx="1039.08" cy="445.88" r="7.2"/>
<circle cx="1039.16" cy="445.77" r="7.2"/>
<circle cx="1039.23" cy="445.67" r="7.2"/>
<circle cx="1039.31" cy="445.58" r="7.2"/>
<circle cx="1039.39" cy="445.5" r="7.2"/>
<circle cx="1039.46" cy="445.41" r="7.2"/>
<circle cx="1039.54" cy="445.32" r="7.2"/>
<circle cx="1039.62" cy="445.23" r="7.2"/>
<circle cx="1039.7" cy="445.15" r="7.2"/>
<circle cx="1039.77" cy="445.06" r="7.2"/>
<circle cx="1039.85" cy="444.97" r="7.2"/>
<circle cx="1039.93" cy="444.89" r="7.2"/>
<circle cx="1040" cy="444.8" r="7.2"/>
<circle cx="1040.08" cy="444.71" r="7.2"/>
<circle cx="1040.16" cy="444.63" r="7.2"/>
<circle cx="1040.23" cy="444.54" r="7.2"/>
<circle cx="1040.31" cy="444.45" r="7.2"/>
<circle cx="1040.39" cy="444.36" r="7.2"/>
<circle cx="1040.46" cy="444.28" r="7.2"/>
<circle cx="1040.54" cy="444.19" r="7.2"/>
<circle cx="1040.62" cy="444.1" r="7.2"/>
<circle cx="1040.69" cy="444.02" r="7.2"/>
<circle cx="1040.77" cy="443.93" r="7.2"/>
<circle cx="1040.85" cy="443.84" r="7.2"/>
<circle cx="1040.92" cy="443.75" r="7.2"/>
<circle cx="1041" cy="443.67" r="7.2"/>
<circle cx="1041.08" cy="443.58" r="7.2"/>
<circle cx="1041.16" cy="443.49" r="7.2"/>
<circle cx="1041.23" cy="443.41" r="7.2"/>
<circle cx="1041.31" cy="443.32" r="7.2"/>
<circle cx="1041.39" cy="443.23" r="7.2"/>
<circle cx="1041.46" cy="443.15" r="7.2"/>
<circle cx="1041.54" cy="443.06" r="7.2"/>
<circle cx="1041.62" cy="442.97" r="7.2"/>
<circle cx="1041.69" cy="442.88" r="7.2"/>
<circle cx="1041.77" cy="442.8" r="7.2"/>
<circle cx="1041.85" cy="442.71" r="7.2"/>
<circle cx="1041.92" cy="442.62" r="7.2"/>
<circle cx="1042" cy="442.54" r="7.2"/>
<circle cx="1042.08" cy="442.45" r="7.2"/>
<circle cx="1042.15" cy="442.36" r="7.2"/>
<circle cx="1042.23" cy="442.27" r="7.2"/>
<circle cx="1042.31" cy="442.19" r="7.2"/>
<circle cx="1042.38" cy="442.1" r="7.2"/>
<circle cx="1042.46" cy="442.01" r="7.2"/>
<circle cx="1042.54" cy="441.93" r="7.2"/>
<circle cx="1042.61" cy="441.84" r="7.2"/>
<circle cx="1042.69" cy="441.75" r="7.2"/>
<circle cx="1042.77" cy="441.66" r="7.2"/>
<circle cx="1042.84" cy="441.58" r="7.2"/>
<circle cx="1042.92" cy="441.49" r="7.2"/>
<circle cx="1043" cy="441.4" r="7.2"/>
<circle cx="1043.07" cy="441.32" r="7.2"/>
<circle cx="1043.15" cy="441.23" r="7.2"/>
<circle cx="1043.22" cy="441.14" r="7.2"/>
<circle cx="1043.3" cy="441.06" r="7.2"/>
<circle cx="1043.38" cy="440.97" r="7.2"/>
<circle cx="1043.45" cy="440.88" r="7.2"/>
<circle cx="1043.53" cy="440.79" r="7.2"/>
<circle cx="1043.61" cy="440.71" r="7.2"/>
<circle cx="1043.68" cy="440.62" r="7.2"/>
<circle cx="1043.76" cy="440.53" r="7.2"/>
<circle cx="1043.84" cy="440.45" r="7.2"/>
<circle cx="1043.91" cy="440.36" r="7.2"/>
<circle cx="1043.99" cy="440.27" r="7.2"/>
<circle cx="1044.07" cy="440.18" r="7.2"/>
<circle cx="1044.14" cy="440.1" r="7.2"/>
<circle cx="1044.22" cy="440.01" r="7.2"/>
<circle cx="1044.3" cy="439.92" r="7.2"/>
<circle cx="1044.37" cy="439.84" r="7.2"/>
<circle cx="1044.45" cy="439.75" r="7.2"/>
<circle cx="1044.53" cy="439.66" r="7.2"/>
<circle cx="1044.6" cy="439.57" r="7.2"/>
<circle cx="1044.68" cy="439.49" r="7.2"/>
<circle cx="1044.76" cy="439.4" r="7.2"/>
<circle cx="1044.83" cy="439.31" r="7.2"/>
<circle cx="1044.91" cy="439.23" r="7.2"/>
<circle cx="1044.99" cy="439.14" r="7.2"/>
<circle cx="1045.06" cy="439.05" r="7.2"/>
<circle cx="1045.14" cy="438.97" r="7.2"/>
<circle cx="1045.21" cy="438.88" r="7.2"/>
<circle cx="1045.29" cy="438.79" r="7.2"/>
<circle cx="1045.37" cy="438.7" r="7.2"/>
<circle cx="1045.44" cy="438.62" r="7.2"/>
<circle cx="1045.52" cy="438.53" r="7.2"/>
<circle cx="1045.6" cy="438.44" r="7.2"/>
<circle cx="1045.67" cy="438.36" r="7.2"/>
<circle cx="1045.75" cy="438.27" r="7.2"/>
<circle cx="1045.83" cy="438.18" r="7.2"/>
<circle cx="1045.9" cy="438.09" r="7.2"/>
<circle cx="1045.98" cy="438.01" r="7.2"/>
<circle cx="1046.06" cy="437.92" r="7.2"/>
<circle cx="1046.13" cy="437.83" r="7.2"/>
<circle cx="1046.21" cy="437.74" r="7.2"/>
<circle cx="1046.29" cy="437.64" r="7.2"/>
<circle cx="1046.36" cy="437.54" r="7.2"/>
<circle cx="1046.44" cy="437.43" r="7.2"/>
<circle cx="1046.51" cy="437.33" r="7.2"/>
<circle cx="1046.59" cy="437.23" r="7.2"/>
<circle cx="1046.67" cy="437.13" r="7.2"/>
<circle cx="1046.74" cy="437.03" r="7.2"/>
<circle cx="1046.82" cy="436.93" r="7.2"/>
<circle cx="1046.9" cy="436.82" r="7.2"/>
<circle cx="1046.97" cy="436.72" r="7.2"/>
<circle cx="1047.05" cy="436.62" r="7.2"/>
<circle cx="1047.13" cy="436.52" r="7.2"/>
<circle cx="1047.2" cy="436.42" r="7.2"/>
<circle cx="1047.28" cy="436.32" r="7.2"/>
<circle cx="1047.36" cy="436.22" r="7.2"/>
<circle cx="1047.43" cy="436.11" r="7.2"/>
<circle cx="1047.51" cy="436.01" r="7.2"/>
<circle cx="1047.59" cy="435.91" r="7.2"/>
<circle cx="1047.66" cy="435.81" r="7.2"/>
<circle cx="1047.74" cy="435.71" r="7.2"/>
<circle cx="1047.81" cy="435.61" r="7.2"/>
<circle cx="1047.89" cy="435.5" r="7.2"/>
<circle cx="1047.97" cy="435.4" r="7.2"/>
<circle cx="1048.04" cy="435.3" r="7.2"/>
<circle cx="1048.12" cy="435.2" r="7.2"/>
<circle cx="1048.2" cy="435.1" r="7.2"/>
<circle cx="1048.27" cy="435" r="7.2"/>
<circle cx="1048.35" cy="434.89" r="7.2"/>
<circle cx="1048.43" cy="434.79" r="7.2"/>
<circle cx="1048.5" cy="434.69" r="7.2"/>
<circle cx="1048.58" cy="434.59" r="7.2"/>
<circle cx="1048.66" cy="434.49" r="7.2"/>
<circle cx="1048.73" cy="434.39" r="7.2"/>
<circle cx="1048.81" cy="434.29" r="7.2"/>
<circle cx="1048.89" cy="434.18" r="7.2"/>
<circle cx="1048.96" cy="434.08" r="7.2"/>
<circle cx="1049.04" cy="433.98" r="7.2"/>
<circle cx="1049.12" cy="433.88" r="7.2"/>
<circle cx="1049.19" cy="433.78" r="7.2"/>
<circle cx="1049.27" cy="433.68" r="7.2"/>
<circle cx="1049.35" cy="433.57" r="7.2"/>
<circle cx="1049.42" cy="433.47" r="7.2"/>
<circle cx="1049.5" cy="433.37" r="7.2"/>
<circle cx="1049.58" cy="433.27" r="7.2"/>
<circle cx="1049.65" cy="433.17" r="7.2"/>
<circle cx="1049.73" cy="433.07" r="7.2"/>
<circle cx="1049.8" cy="432.96" r="7.2"/>
<circle cx="1049.88" cy="432.86" r="7.2"/>
<circle cx="1049.96" cy="432.76" r="7.2"/>
<circle cx="1050.03" cy="432.66" r="7.2"/>
<circle cx="1050.11" cy="432.56" r="7.2"/>
<circle cx="1050.19" cy="432.46" r="7.2"/>
<circle cx="1050.26" cy="432.35" r="7.2"/>
<circle cx="1050.34" cy="432.25" r="7.2"/>
<circle cx="1050.42" cy="432.15" r="7.2"/>
<circle cx="1050.49" cy="432.05" r="7.2"/>
<circle cx="1050.57" cy="431.95" r="7.2"/>
<circle cx="1050.65" cy="431.85" r="7.2"/>
<circle cx="1050.72" cy="431.75" r="7.2"/>
<circle cx="1050.8" cy="431.64" r="7.2"/>
<circle cx="1050.88" cy="431.54" r="7.2"/>
<circle cx="1050.95" cy="431.44" r="7.2"/>
<circle cx="1051.03" cy="431.34" r="7.2"/>
<circle cx="1051.11" cy="431.24" r="7.2"/>
<circle cx="1051.18" cy="431.14" r="7.2"/>
<circle cx="1051.26" cy="431.03" r="7.2"/>
<circle cx="1051.34" cy="430.93" r="7.2"/>
<circle cx="1051.41" cy="430.83" r="7.2"/>
<circle cx="1051.49" cy="430.73" r="7.2"/>
<circle cx="1051.57" cy="430.63" r="7.2"/>
<circle cx="1051.64" cy="430.53" r="7.2"/>
<circle cx="1051.72" cy="430.42" r="7.2"/>
<circle cx="1051.8" cy="430.32" r="7.2"/>
<circle cx="1051.88" cy="430.22" r="7.2"/>
<circle cx="1051.95" cy="430.12" r="7.2"/>
<circle cx="1052.03" cy="430.02" r="7.2"/>
<circle cx="1052.11" cy="429.92" r="7.2"/>
<circle cx="1052.18" cy="429.82" r="7.2"/>
<circle cx="1052.26" cy="429.72" r="7.2"/>
<circle cx="1052.34" cy="429.62" r="7.2"/>
<circle cx="1052.41" cy="429.52" r="7.2"/>
<circle cx="1052.49" cy="429.43" r="7.2"/>
<circle cx="1052.57" cy="429.33" r="7.2"/>
<circle cx="1052.64" cy="429.23" r="7.2"/>
<circle cx="1052.72" cy="429.13" r="7.2"/>
<circle cx="1052.8" cy="429.03" r="7.2"/>
<circle cx="1052.87" cy="428.94" r="7.2"/>
<circle cx="1052.95" cy="428.84" r="7.2"/>
<circle cx="1053.03" cy="428.74" r="7.2"/>
<circle cx="1053.1" cy="428.64" r="7.2"/>
<circle cx="1053.18" cy="428.55" r="7.2"/>
<circle cx="1053.26" cy="428.45" r="7.2"/>
<circle cx="1053.34" cy="428.35" r="7.2"/>
<circle cx="1053.41" cy="428.25" r="7.2"/>
<circle cx="1053.49" cy="428.15" r="7.2"/>
<circle cx="1053.57" cy="428.06" r="7.2"/>
<circle cx="1053.64" cy="427.96" r="7.2"/>
<circle cx="1053.72" cy="427.86" r="7.2"/>
<circle cx="1053.8" cy="427.76" r="7.2"/>
<circle cx="1053.87" cy="427.67" r="7.2"/>
<circle cx="1053.95" cy="427.57" r="7.2"/>
<circle cx="1054.03" cy="427.47" r="7.2"/>
<circle cx="1054.11" cy="427.37" r="7.2"/>
<circle cx="1054.18" cy="427.27" r="7.2"/>
<circle cx="1054.26" cy="427.18" r="7.2"/>
<circle cx="1054.34" cy="427.08" r="7.2"/>
<circle cx="1054.41" cy="426.98" r="7.2"/>
<circle cx="1054.49" cy="426.88" r="7.2"/>
<circle cx="1054.57" cy="426.78" r="7.2"/>
<circle cx="1054.65" cy="426.69" r="7.2"/>
<circle cx="1054.72" cy="426.59" r="7.2"/>
<circle cx="1054.8" cy="426.49" r="7.2"/>
<circle cx="1054.88" cy="426.39" r="7.2"/>
<circle cx="1054.95" cy="426.3" r="7.2"/>
<circle cx="1055.03" cy="426.2" r="7.2"/>
<circle cx="1055.11" cy="426.1" r="7.2"/>
<circle cx="1055.19" cy="426" r="7.2"/>
<circle cx="1055.26" cy="425.9" r="7.2"/>
<circle cx="1055.34" cy="425.81" r="7.2"/>
<circle cx="1055.42" cy="425.71" r="7.2"/>
<circle cx="1055.5" cy="425.61" r="7.2"/>
<circle cx="1055.57" cy="425.51" r="7.2"/>
<circle cx="1055.65" cy="425.42" r="7.2"/>
<circle cx="1055.73" cy="425.32" r="7.2"/>
<circle cx="1055.81" cy="425.22" r="7.2"/>
<circle cx="1055.88" cy="425.12" r="7.2"/>
<circle cx="1055.96" cy="425.02" r="7.2"/>
<circle cx="1056.04" cy="424.93" r="7.2"/>
<circle cx="1056.11" cy="424.83" r="7.2"/>
<circle cx="1056.19" cy="424.73" r="7.2"/>
<circle cx="1056.27" cy="424.63" r="7.2"/>
<circle cx="1056.35" cy="424.53" r="7.2"/>
<circle cx="1056.42" cy="424.44" r="7.2"/>
<circle cx="1056.5" cy="424.34" r="7.2"/>
<circle cx="1056.58" cy="424.24" r="7.2"/>
<circle cx="1056.66" cy="424.14" r="7.2"/>
<circle cx="1056.73" cy="424.05" r="7.2"/>
<circle cx="1056.81" cy="423.95" r="7.2"/>
<circle cx="1056.89" cy="423.85" r="7.2"/>
<circle cx="1056.97" cy="423.75" r="7.2"/>
<circle cx="1057.05" cy="423.65" r="7.2"/>
<circle cx="1057.12" cy="423.56" r="7.2"/>
<circle cx="1057.2" cy="423.46" r="7.2"/>
<circle cx="1057.28" cy="423.36" r="7.2"/>
<circle cx="1057.36" cy="423.26" r="7.2"/>
<circle cx="1057.43" cy="423.17" r="7.2"/>
<circle cx="1057.51" cy="423.07" r="7.2"/>
<circle cx="1057.59" cy="422.97" r="7.2"/>
<circle cx="1057.67" cy="422.87" r="7.2"/>
<circle cx="1057.74" cy="422.77" r="7.2"/>
<circle cx="1057.82" cy="422.68" r="7.2"/>
<circle cx="1057.9" cy="422.58" r="7.2"/>
<circle cx="1057.98" cy="422.48" r="7.2"/>
<circle cx="1058.06" cy="422.38" r="7.2"/>
<circle cx="1058.13" cy="422.28" r="7.2"/>
<circle cx="1058.21" cy="422.19" r="7.2"/>
<circle cx="1058.29" cy="422.09" r="7.2"/>
<circle cx="1058.37" cy="421.99" r="7.2"/>
<circle cx="1058.45" cy="421.89" r="7.2"/>
<circle cx="1058.52" cy="421.8" r="7.2"/>
<circle cx="1058.6" cy="421.7" r="7.2"/>
<circle cx="1058.68" cy="421.6" r="7.2"/>
<circle cx="1058.76" cy="421.5" r="7.2"/>
<circle cx="1058.84" cy="421.4" r="7.2"/>
<circle cx="1058.91" cy="421.31" r="7.2"/>
<circle cx="1058.99" cy="421.21" r="7.2"/>
<circle cx="1059.07" cy="421.11" r="7.2"/>
<circle cx="1059.15" cy="421.01" r="7.2"/>
<circle cx="1059.23" cy="420.92" r="7.2"/>
<circle cx="1059.3" cy="420.82" r="7.2"/>
<circle cx="1059.38" cy="420.72" r="7.2"/>
<circle cx="1059.46" cy="420.62" r="7.2"/>
<circle cx="1059.54" cy="420.52" r="7.2"/>
<circle cx="1059.62" cy="420.43" r="7.2"/>
<circle cx="1059.7" cy="420.33" r="7.2"/>
<circle cx="1059.77" cy="420.23" r="7.2"/>
<circle cx="1059.85" cy="420.13" r="7.2"/>
<circle cx="1059.93" cy="420.03" r="7.2"/>
<circle cx="1060.01" cy="419.94" r="7.2"/>
<circle cx="1060.09" cy="419.84" r="7.2"/>
<circle cx="1060.17" cy="419.74" r="7.2"/>
<circle cx="1060.24" cy="419.64" r="7.2"/>
<circle cx="1060.32" cy="419.55" r="7.2"/>
<circle cx="1060.4" cy="419.45" r="7.2"/>
<circle cx="1060.48" cy="419.35" r="7.2"/>
<circle cx="1060.56" cy="419.25" r="7.2"/>
<circle cx="1060.64" cy="419.15" r="7.2"/>
<circle cx="1060.72" cy="419.06" r="7.2"/>
<circle cx="1060.79" cy="418.96" r="7.2"/>
<circle cx="1060.87" cy="418.86" r="7.2"/>
<circle cx="1060.95" cy="418.76" r="7.2"/>
<circle cx="1061.03" cy="418.67" r="7.2"/>
<circle cx="1061.11" cy="418.57" r="7.2"/>
<circle cx="1061.19" cy="418.47" r="7.2"/>
<circle cx="1061.27" cy="418.37" r="7.2"/>
<circle cx="1061.35" cy="418.27" r="7.2"/>
<circle cx="1061.42" cy="418.18" r="7.2"/>
<circle cx="1061.5" cy="418.08" r="7.2"/>
<circle cx="1061.58" cy="417.98" r="7.2"/>
<circle cx="1061.66" cy="417.88" r="7.2"/>
<circle cx="1061.74" cy="417.78" r="7.2"/>
<circle cx="1061.82" cy="417.69" r="7.2"/>
<circle cx="1061.9" cy="417.59" r="7.2"/>
<circle cx="1061.98" cy="417.49" r="7.2"/>
<circle cx="1062.06" cy="417.39" r="7.2"/>
<circle cx="1062.13" cy="417.3" r="7.2"/>
<circle cx="1062.21" cy="417.2" r="7.2"/>
<circle cx="1062.29" cy="417.1" r="7.2"/>
<circle cx="1062.37" cy="417" r="7.2"/>
<circle cx="1062.45" cy="416.9" r="7.2"/>
<circle cx="1062.53" cy="416.81" r="7.2"/>
<circle cx="1062.61" cy="416.71" r="7.2"/>
<circle cx="1062.69" cy="416.61" r="7.2"/>
<circle cx="1062.77" cy="416.51" r="7.2"/>
<circle cx="1062.85" cy="416.42" r="7.2"/>
<circle cx="1062.93" cy="416.32" r="7.2"/>
<circle cx="1063.01" cy="416.22" r="7.2"/>
<circle cx="1063.09" cy="416.12" r="7.2"/>
<circle cx="1063.17" cy="416.02" r="7.2"/>
<circle cx="1063.24" cy="415.93" r="7.2"/>
<circle cx="1063.32" cy="415.83" r="7.2"/>
<circle cx="1063.4" cy="415.73" r="7.2"/>
<circle cx="1063.48" cy="415.63" r="7.2"/>
<circle cx="1063.56" cy="415.53" r="7.2"/>
<circle cx="1063.64" cy="415.44" r="7.2"/>
<circle cx="1063.72" cy="415.34" r="7.2"/>
<circle cx="1063.8" cy="415.24" r="7.2"/>
<circle cx="1063.88" cy="415.14" r="7.2"/>
<circle cx="1063.96" cy="415.05" r="7.2"/>
<circle cx="1064.04" cy="414.95" r="7.2"/>
<circle cx="1064.12" cy="414.85" r="7.2"/>
<circle cx="1064.2" cy="414.75" r="7.2"/>
<circle cx="1064.28" cy="414.65" r="7.2"/>
<circle cx="1064.36" cy="414.56" r="7.2"/>
<circle cx="1064.44" cy="414.46" r="7.2"/>
<circle cx="1064.52" cy="414.36" r="7.2"/>
<circle cx="1064.6" cy="414.26" r="7.2"/>
<circle cx="1064.68" cy="414.17" r="7.2"/>
<circle cx="1064.76" cy="414.07" r="7.2"/>
<circle cx="1064.84" cy="413.97" r="7.2"/>
<circle cx="1064.92" cy="413.87" r="7.2"/>
<circle cx="1065" cy="413.78" r="7.2"/>
<circle cx="1065.08" cy="413.68" r="7.2"/>
<circle cx="1065.16" cy="413.58" r="7.2"/>
<circle cx="1065.24" cy="413.49" r="7.2"/>
<circle cx="1065.32" cy="413.39" r="7.2"/>
<circle cx="1065.4" cy="413.29" r="7.2"/>
<circle cx="1065.48" cy="413.2" r="7.2"/>
<circle cx="1065.56" cy="413.1" r="7.2"/>
<circle cx="1065.64" cy="413" r="7.2"/>
<circle cx="1065.72" cy="412.91" r="7.2"/>
<circle cx="1065.8" cy="412.81" r="7.2"/>
<circle cx="1065.88" cy="412.71" r="7.2"/>
<circle cx="1065.96" cy="412.62" r="7.2"/>
<circle cx="1066.04" cy="412.52" r="7.2"/>
<circle cx="1066.12" cy="412.42" r="7.2"/>
<circle cx="1066.2" cy="412.33" r="7.2"/>
<circle cx="1066.29" cy="412.23" r="7.2"/>
<circle cx="1066.37" cy="412.13" r="7.2"/>
<circle cx="1066.45" cy="412.04" r="7.2"/>
<circle cx="1066.53" cy="411.94" r="7.2"/>
<circle cx="1066.61" cy="411.84" r="7.2"/>
<circle cx="1066.69" cy="411.75" r="7.2"/>
<circle cx="1066.77" cy="411.65" r="7.2"/>
<circle cx="1066.85" cy="411.55" r="7.2"/>
<circle cx="1066.93" cy="411.46" r="7.2"/>
<circle cx="1067.01" cy="411.36" r="7.2"/>
<circle cx="1067.09" cy="411.26" r="7.2"/>
<circle cx="1067.17" cy="411.17" r="7.2"/>
<circle cx="1067.26" cy="411.07" r="7.2"/>
<circle cx="1067.34" cy="410.97" r="7.2"/>
<circle cx="1067.42" cy="410.88" r="7.2"/>
<circle cx="1067.5" cy="410.78" r="7.2"/>
<circle cx="1067.58" cy="410.68" r="7.2"/>
<circle cx="1067.66" cy="410.59" r="7.2"/>
<circle cx="1067.74" cy="410.49" r="7.2"/>
<circle cx="1067.82" cy="410.39" r="7.2"/>
<circle cx="1067.91" cy="410.3" r="7.2"/>
<circle cx="1067.99" cy="410.2" r="7.2"/>
<circle cx="1068.07" cy="410.1" r="7.2"/>
<circle cx="1068.15" cy="410.01" r="7.2"/>
<circle cx="1068.23" cy="409.91" r="7.2"/>
<circle cx="1068.31" cy="409.81" r="7.2"/>
<circle cx="1068.39" cy="409.72" r="7.2"/>
<circle cx="1068.48" cy="409.62" r="7.2"/>
<circle cx="1068.56" cy="409.53" r="7.2"/>
<circle cx="1068.64" cy="409.43" r="7.2"/>
<circle cx="1068.72" cy="409.33" r="7.2"/>
<circle cx="1068.8" cy="409.24" r="7.2"/>
<circle cx="1068.88" cy="409.14" r="7.2"/>
<circle cx="1068.97" cy="409.04" r="7.2"/>
<circle cx="1069.05" cy="408.95" r="7.2"/>
<circle cx="1069.13" cy="408.85" r="7.2"/>
<circle cx="1069.21" cy="408.75" r="7.2"/>
<circle cx="1069.29" cy="408.66" r="7.2"/>
<circle cx="1069.38" cy="408.56" r="7.2"/>
<circle cx="1069.46" cy="408.46" r="7.2"/>
<circle cx="1069.54" cy="408.37" r="7.2"/>
<circle cx="1069.62" cy="408.27" r="7.2"/>
<circle cx="1069.7" cy="408.17" r="7.2"/>
<circle cx="1069.79" cy="408.08" r="7.2"/>
<circle cx="1069.87" cy="407.98" r="7.2"/>
<circle cx="1069.95" cy="407.88" r="7.2"/>
<circle cx="1070.03" cy="407.79" r="7.2"/>
<circle cx="1070.12" cy="407.69" r="7.2"/>
<circle cx="1070.2" cy="407.59" r="7.2"/>
<circle cx="1070.28" cy="407.5" r="7.2"/>
<circle cx="1070.36" cy="407.4" r="7.2"/>
<circle cx="1070.45" cy="407.3" r="7.2"/>
<circle cx="1070.53" cy="407.21" r="7.2"/>
<circle cx="1070.61" cy="407.11" r="7.2"/>
<circle cx="1070.7" cy="407.01" r="7.2"/>
<circle cx="1070.78" cy="406.92" r="7.2"/>
<circle cx="1070.86" cy="406.82" r="7.2"/>
<circle cx="1070.94" cy="406.72" r="7.2"/>
<circle cx="1071.03" cy="406.63" r="7.2"/>
<circle cx="1071.11" cy="406.53" r="7.2"/>
<circle cx="1071.19" cy="406.43" r="7.2"/>
<circle cx="1071.28" cy="406.34" r="7.2"/>
<circle cx="1071.36" cy="406.24" r="7.2"/>
<circle cx="1071.44" cy="406.14" r="7.2"/>
<circle cx="1071.53" cy="406.05" r="7.2"/>
<circle cx="1071.61" cy="405.95" r="7.2"/>
<circle cx="1071.69" cy="405.86" r="7.2"/>
<circle cx="1071.78" cy="405.76" r="7.2"/>
<circle cx="1071.86" cy="405.67" r="7.2"/>
<circle cx="1071.94" cy="405.57" r="7.2"/>
<circle cx="1072.03" cy="405.47" r="7.2"/>
<circle cx="1072.11" cy="405.38" r="7.2"/>
<circle cx="1072.19" cy="405.28" r="7.2"/>
<circle cx="1072.28" cy="405.19" r="7.2"/>
<circle cx="1072.36" cy="405.09" r="7.2"/>
<circle cx="1072.44" cy="405" r="7.2"/>
<circle cx="1072.53" cy="404.9" r="7.2"/>
<circle cx="1072.61" cy="404.81" r="7.2"/>
<circle cx="1072.7" cy="404.71" r="7.2"/>
<circle cx="1072.78" cy="404.61" r="7.2"/>
<circle cx="1072.86" cy="404.52" r="7.2"/>
<circle cx="1072.95" cy="404.42" r="7.2"/>
<circle cx="1073.03" cy="404.33" r="7.2"/>
<circle cx="1073.12" cy="404.23" r="7.2"/>
<circle cx="1073.2" cy="404.14" r="7.2"/>
<circle cx="1073.28" cy="404.04" r="7.2"/>
<circle cx="1073.37" cy="403.95" r="7.2"/>
<circle cx="1073.45" cy="403.85" r="7.2"/>
<circle cx="1073.54" cy="403.76" r="7.2"/>
<circle cx="1073.62" cy="403.66" r="7.2"/>
<circle cx="1073.71" cy="403.56" r="7.2"/>
<circle cx="1073.79" cy="403.47" r="7.2"/>
<circle cx="1073.87" cy="403.37" r="7.2"/>
<circle cx="1073.96" cy="403.28" r="7.2"/>
<circle cx="1074.04" cy="403.18" r="7.2"/>
<circle cx="1074.13" cy="403.09" r="7.2"/>
<circle cx="1074.21" cy="402.99" r="7.2"/>
<circle cx="1074.3" cy="402.9" r="7.2"/>
<circle cx="1074.38" cy="402.8" r="7.2"/>
<circle cx="1074.47" cy="402.71" r="7.2"/>
<circle cx="1074.55" cy="402.61" r="7.2"/>
<circle cx="1074.64" cy="402.51" r="7.2"/>
<circle cx="1074.72" cy="402.42" r="7.2"/>
<circle cx="1074.81" cy="402.32" r="7.2"/>
<circle cx="1074.89" cy="402.23" r="7.2"/>
<circle cx="1074.98" cy="402.13" r="7.2"/>
<circle cx="1075.06" cy="402.04" r="7.2"/>
<circle cx="1075.15" cy="401.94" r="7.2"/>
<circle cx="1075.24" cy="401.85" r="7.2"/>
<circle cx="1075.32" cy="401.75" r="7.2"/>
<circle cx="1075.41" cy="401.66" r="7.2"/>
<circle cx="1075.49" cy="401.56" r="7.2"/>
<circle cx="1075.58" cy="401.46" r="7.2"/>
<circle cx="1075.66" cy="401.37" r="7.2"/>
<circle cx="1075.75" cy="401.27" r="7.2"/>
<circle cx="1075.84" cy="401.18" r="7.2"/>
<circle cx="1075.92" cy="401.08" r="7.2"/>
<circle cx="1076.01" cy="400.99" r="7.2"/>
<circle cx="1076.09" cy="400.89" r="7.2"/>
<circle cx="1076.18" cy="400.8" r="7.2"/>
<circle cx="1076.27" cy="400.7" r="7.2"/>
<circle cx="1076.35" cy="400.61" r="7.2"/>
<circle cx="1076.44" cy="400.51" r="7.2"/>
<circle cx="1076.52" cy="400.41" r="7.2"/>
<circle cx="1076.61" cy="400.32" r="7.2"/>
<circle cx="1076.7" cy="400.22" r="7.2"/>
<circle cx="1076.78" cy="400.13" r="7.2"/>
<circle cx="1076.87" cy="400.03" r="7.2"/>
<circle cx="1076.96" cy="399.94" r="7.2"/>
<circle cx="1077.04" cy="399.84" r="7.2"/>
<circle cx="1077.13" cy="399.75" r="7.2"/>
<circle cx="1077.22" cy="399.65" r="7.2"/>
<circle cx="1077.3" cy="399.56" r="7.2"/>
<circle cx="1077.39" cy="399.46" r="7.2"/>
<circle cx="1077.48" cy="399.36" r="7.2"/>
<circle cx="1077.57" cy="399.27" r="7.2"/>
<circle cx="1077.65" cy="399.17" r="7.2"/>
<circle cx="1077.74" cy="399.08" r="7.2"/>
<circle cx="1077.83" cy="398.98" r="7.2"/>
<circle cx="1077.91" cy="398.89" r="7.2"/>
<circle cx="1078" cy="398.79" r="7.2"/>
<circle cx="1078.09" cy="398.7" r="7.2"/>
<circle cx="1078.18" cy="398.6" r="7.2"/>
<circle cx="1078.26" cy="398.5" r="7.2"/>
<circle cx="1078.35" cy="398.41" r="7.2"/>
<circle cx="1078.44" cy="398.31" r="7.2"/>
<circle cx="1078.53" cy="398.22" r="7.2"/>
<circle cx="1078.62" cy="398.12" r="7.2"/>
<circle cx="1078.7" cy="398.02" r="7.2"/>
<circle cx="1078.79" cy="397.92" r="7.2"/>
<circle cx="1078.88" cy="397.82" r="7.2"/>
<circle cx="1078.97" cy="397.71" r="7.2"/>
<circle cx="1079.06" cy="397.61" r="7.2"/>
<circle cx="1079.14" cy="397.51" r="7.2"/>
<circle cx="1079.23" cy="397.41" r="7.2"/>
<circle cx="1079.32" cy="397.31" r="7.2"/>
<circle cx="1079.41" cy="397.21" r="7.2"/>
<circle cx="1079.5" cy="397.1" r="7.2"/>
<circle cx="1079.59" cy="397" r="7.2"/>
<circle cx="1079.68" cy="396.9" r="7.2"/>
<circle cx="1079.76" cy="396.8" r="7.2"/>
<circle cx="1079.85" cy="396.7" r="7.2"/>
<circle cx="1079.94" cy="396.6" r="7.2"/>
<circle cx="1080.03" cy="396.49" r="7.2"/>
<circle cx="1080.12" cy="396.39" r="7.2"/>
<circle cx="1080.21" cy="396.29" r="7.2"/>
<circle cx="1080.3" cy="396.19" r="7.2"/>
<circle cx="1080.39" cy="396.09" r="7.2"/>
<circle cx="1080.48" cy="395.99" r="7.2"/>
<circle cx="1080.57" cy="395.89" r="7.2"/>
<circle cx="1080.66" cy="395.78" r="7.2"/>
<circle cx="1080.75" cy="395.68" r="7.2"/>
<circle cx="1080.83" cy="395.58" r="7.2"/>
<circle cx="1080.92" cy="395.48" r="7.2"/>
<circle cx="1081.01" cy="395.38" r="7.2"/>
<circle cx="1081.1" cy="395.28" r="7.2"/>
<circle cx="1081.19" cy="395.17" r="7.2"/>
<circle cx="1081.28" cy="395.07" r="7.2"/>
<circle cx="1081.37" cy="394.97" r="7.2"/>
<circle cx="1081.46" cy="394.87" r="7.2"/>
<circle cx="1081.55" cy="394.77" r="7.2"/>
<circle cx="1081.64" cy="394.67" r="7.2"/>
<circle cx="1081.74" cy="394.56" r="7.2"/>
<circle cx="1081.83" cy="394.46" r="7.2"/>
<circle cx="1081.92" cy="394.36" r="7.2"/>
<circle cx="1082.01" cy="394.26" r="7.2"/>
<circle cx="1082.1" cy="394.16" r="7.2"/>
<circle cx="1082.19" cy="394.06" r="7.2"/>
<circle cx="1082.28" cy="393.95" r="7.2"/>
<circle cx="1082.37" cy="393.85" r="7.2"/>
<circle cx="1082.46" cy="393.75" r="7.2"/>
<circle cx="1082.55" cy="393.65" r="7.2"/>
<circle cx="1082.64" cy="393.55" r="7.2"/>
<circle cx="1082.73" cy="393.45" r="7.2"/>
<circle cx="1082.83" cy="393.35" r="7.2"/>
<circle cx="1082.92" cy="393.24" r="7.2"/>
<circle cx="1083.01" cy="393.14" r="7.2"/>
<circle cx="1083.1" cy="393.04" r="7.2"/>
<circle cx="1083.19" cy="392.94" r="7.2"/>
<circle cx="1083.28" cy="392.84" r="7.2"/>
<circle cx="1083.38" cy="392.74" r="7.2"/>
<circle cx="1083.47" cy="392.63" r="7.2"/>
<circle cx="1083.56" cy="392.53" r="7.2"/>
<circle cx="1083.65" cy="392.43" r="7.2"/>
<circle cx="1083.74" cy="392.33" r="7.2"/>
<circle cx="1083.84" cy="392.23" r="7.2"/>
<circle cx="1083.93" cy="392.13" r="7.2"/>
<circle cx="1084.02" cy="392.02" r="7.2"/>
<circle cx="1084.11" cy="391.92" r="7.2"/>
<circle cx="1084.21" cy="391.82" r="7.2"/>
<circle cx="1084.3" cy="391.72" r="7.2"/>
<circle cx="1084.39" cy="391.62" r="7.2"/>
<circle cx="1084.48" cy="391.52" r="7.2"/>
<circle cx="1084.58" cy="391.42" r="7.2"/>
<circle cx="1084.67" cy="391.31" r="7.2"/>
<circle cx="1084.76" cy="391.21" r="7.2"/>
<circle cx="1084.86" cy="391.11" r="7.2"/>
<circle cx="1084.95" cy="391.01" r="7.2"/>
<circle cx="1085.04" cy="390.91" r="7.2"/>
<circle cx="1085.14" cy="390.81" r="7.2"/>
<circle cx="1085.23" cy="390.7" r="7.2"/>
<circle cx="1085.32" cy="390.6" r="7.2"/>
<circle cx="1085.42" cy="390.5" r="7.2"/>
<circle cx="1085.51" cy="390.4" r="7.2"/>
<circle cx="1085.61" cy="390.3" r="7.2"/>
<circle cx="1085.7" cy="390.19" r="7.2"/>
<circle cx="1085.79" cy="390.07" r="7.2"/>
<circle cx="1085.89" cy="389.96" r="7.2"/>
<circle cx="1085.98" cy="389.85" r="7.2"/>
<circle cx="1086.08" cy="389.73" r="7.2"/>
<circle cx="1086.17" cy="389.62" r="7.2"/>
<circle cx="1086.27" cy="389.5" r="7.2"/>
<circle cx="1086.36" cy="389.39" r="7.2"/>
<circle cx="1086.46" cy="389.27" r="7.2"/>
<circle cx="1086.55" cy="389.16" r="7.2"/>
<circle cx="1086.64" cy="389.04" r="7.2"/>
<circle cx="1086.74" cy="388.93" r="7.2"/>
<circle cx="1086.84" cy="388.81" r="7.2"/>
<circle cx="1086.93" cy="388.7" r="7.2"/>
<circle cx="1087.03" cy="388.58" r="7.2"/>
<circle cx="1087.12" cy="388.47" r="7.2"/>
<circle cx="1087.22" cy="388.35" r="7.2"/>
<circle cx="1087.31" cy="388.24" r="7.2"/>
<circle cx="1087.41" cy="388.12" r="7.2"/>
<circle cx="1087.5" cy="388.01" r="7.2"/>
<circle cx="1087.6" cy="387.89" r="7.2"/>
<circle cx="1087.7" cy="387.78" r="7.2"/>
<circle cx="1087.79" cy="387.66" r="7.2"/>
<circle cx="1087.89" cy="387.55" r="7.2"/>
<circle cx="1087.99" cy="387.43" r="7.2"/>
<circle cx="1088.08" cy="387.32" r="7.2"/>
<circle cx="1088.18" cy="387.2" r="7.2"/>
<circle cx="1088.28" cy="387.09" r="7.2"/>
<circle cx="1088.37" cy="386.97" r="7.2"/>
<circle cx="1088.47" cy="386.86" r="7.2"/>
<circle cx="1088.57" cy="386.74" r="7.2"/>
<circle cx="1088.66" cy="386.63" r="7.2"/>
<circle cx="1088.76" cy="386.51" r="7.2"/>
<circle cx="1088.86" cy="386.4" r="7.2"/>
<circle cx="1088.95" cy="386.29" r="7.2"/>
<circle cx="1089.05" cy="386.17" r="7.2"/>
<circle cx="1089.15" cy="386.06" r="7.2"/>
<circle cx="1089.25" cy="385.94" r="7.2"/>
<circle cx="1089.35" cy="385.83" r="7.2"/>
<circle cx="1089.44" cy="385.71" r="7.2"/>
<circle cx="1089.54" cy="385.6" r="7.2"/>
<circle cx="1089.64" cy="385.48" r="7.2"/>
<circle cx="1089.74" cy="385.37" r="7.2"/>
<circle cx="1089.84" cy="385.25" r="7.2"/>
<circle cx="1089.94" cy="385.14" r="7.2"/>
<circle cx="1090.03" cy="385.02" r="7.2"/>
<circle cx="1090.13" cy="384.91" r="7.2"/>
<circle cx="1090.23" cy="384.79" r="7.2"/>
<circle cx="1090.33" cy="384.68" r="7.2"/>
<circle cx="1090.43" cy="384.56" r="7.2"/>
<circle cx="1090.53" cy="384.45" r="7.2"/>
<circle cx="1090.63" cy="384.33" r="7.2"/>
<circle cx="1090.73" cy="384.22" r="7.2"/>
<circle cx="1090.83" cy="384.1" r="7.2"/>
<circle cx="1090.93" cy="383.99" r="7.2"/>
<circle cx="1091.03" cy="383.87" r="7.2"/>
<circle cx="1091.13" cy="383.76" r="7.2"/>
<circle cx="1091.23" cy="383.64" r="7.2"/>
<circle cx="1091.33" cy="383.53" r="7.2"/>
<circle cx="1091.43" cy="383.41" r="7.2"/>
<circle cx="1091.53" cy="383.3" r="7.2"/>
<circle cx="1091.63" cy="383.18" r="7.2"/>
<circle cx="1091.73" cy="383.07" r="7.2"/>
<circle cx="1091.83" cy="382.95" r="7.2"/>
<circle cx="1091.93" cy="382.84" r="7.2"/>
<circle cx="1092.03" cy="382.73" r="7.2"/>
<circle cx="1092.13" cy="382.61" r="7.2"/>
<circle cx="1092.23" cy="382.5" r="7.2"/>
<circle cx="1092.34" cy="382.38" r="7.2"/>
<circle cx="1092.44" cy="382.25" r="7.2"/>
<circle cx="1092.54" cy="382.11" r="7.2"/>
<circle cx="1092.64" cy="381.97" r="7.2"/>
<circle cx="1092.74" cy="381.83" r="7.2"/>
<circle cx="1092.85" cy="381.69" r="7.2"/>
<circle cx="1092.95" cy="381.54" r="7.2"/>
<circle cx="1093.05" cy="381.4" r="7.2"/>
<circle cx="1093.15" cy="381.26" r="7.2"/>
<circle cx="1093.25" cy="381.12" r="7.2"/>
<circle cx="1093.36" cy="380.98" r="7.2"/>
<circle cx="1093.46" cy="380.84" r="7.2"/>
<circle cx="1093.56" cy="380.7" r="7.2"/>
<circle cx="1093.67" cy="380.55" r="7.2"/>
<circle cx="1093.77" cy="380.41" r="7.2"/>
<circle cx="1093.87" cy="380.27" r="7.2"/>
<circle cx="1093.98" cy="380.13" r="7.2"/>
<circle cx="1094.08" cy="379.99" r="7.2"/>
<circle cx="1094.18" cy="379.85" r="7.2"/>
<circle cx="1094.29" cy="379.71" r="7.2"/>
<circle cx="1094.39" cy="379.56" r="7.2"/>
<circle cx="1094.5" cy="379.42" r="7.2"/>
<circle cx="1094.6" cy="379.28" r="7.2"/>
<circle cx="1094.71" cy="379.14" r="7.2"/>
<circle cx="1094.81" cy="379" r="7.2"/>
<circle cx="1094.92" cy="378.86" r="7.2"/>
<circle cx="1095.02" cy="378.72" r="7.2"/>
<circle cx="1095.13" cy="378.57" r="7.2"/>
<circle cx="1095.23" cy="378.43" r="7.2"/>
<circle cx="1095.34" cy="378.29" r="7.2"/>
<circle cx="1095.44" cy="378.15" r="7.2"/>
<circle cx="1095.55" cy="378.01" r="7.2"/>
<circle cx="1095.65" cy="377.87" r="7.2"/>
<circle cx="1095.76" cy="377.72" r="7.2"/>
<circle cx="1095.86" cy="377.58" r="7.2"/>
<circle cx="1095.97" cy="377.44" r="7.2"/>
<circle cx="1096.08" cy="377.3" r="7.2"/>
<circle cx="1096.18" cy="377.16" r="7.2"/>
<circle cx="1096.29" cy="377.02" r="7.2"/>
<circle cx="1096.4" cy="376.88" r="7.2"/>
<circle cx="1096.5" cy="376.73" r="7.2"/>
<circle cx="1096.61" cy="376.59" r="7.2"/>
<circle cx="1096.72" cy="376.45" r="7.2"/>
<circle cx="1096.83" cy="376.31" r="7.2"/>
<circle cx="1096.93" cy="376.17" r="7.2"/>
<circle cx="1097.04" cy="376.03" r="7.2"/>
<circle cx="1097.15" cy="375.89" r="7.2"/>
<circle cx="1097.26" cy="375.74" r="7.2"/>
<circle cx="1097.37" cy="375.6" r="7.2"/>
<circle cx="1097.47" cy="375.46" r="7.2"/>
<circle cx="1097.58" cy="375.32" r="7.2"/>
<circle cx="1097.69" cy="375.18" r="7.2"/>
<circle cx="1097.8" cy="375.04" r="7.2"/>
<circle cx="1097.91" cy="374.89" r="7.2"/>
<circle cx="1098.02" cy="374.75" r="7.2"/>
<circle cx="1098.13" cy="374.61" r="7.2"/>
<circle cx="1098.24" cy="374.47" r="7.2"/>
<circle cx="1098.35" cy="374.32" r="7.2"/>
<circle cx="1098.46" cy="374.17" r="7.2"/>
<circle cx="1098.57" cy="374.01" r="7.2"/>
<circle cx="1098.68" cy="373.86" r="7.2"/>
<circle cx="1098.79" cy="373.7" r="7.2"/>
<circle cx="1098.9" cy="373.54" r="7.2"/>
<circle cx="1099.01" cy="373.39" r="7.2"/>
<circle cx="1099.12" cy="373.23" r="7.2"/>
<circle cx="1099.23" cy="373.08" r="7.2"/>
<circle cx="1099.34" cy="372.92" r="7.2"/>
<circle cx="1099.46" cy="372.77" r="7.2"/>
<circle cx="1099.57" cy="372.61" r="7.2"/>
<circle cx="1099.68" cy="372.46" r="7.2"/>
<circle cx="1099.79" cy="372.3" r="7.2"/>
<circle cx="1099.9" cy="372.15" r="7.2"/>
<circle cx="1100.02" cy="371.99" r="7.2"/>
<circle cx="1100.13" cy="371.84" r="7.2"/>
<circle cx="1100.24" cy="371.68" r="7.2"/>
<circle cx="1100.35" cy="371.53" r="7.2"/>
<circle cx="1100.47" cy="371.37" r="7.2"/>
<circle cx="1100.58" cy="371.21" r="7.2"/>
<circle cx="1100.69" cy="371.06" r="7.2"/>
<circle cx="1100.81" cy="370.9" r="7.2"/>
<circle cx="1100.92" cy="370.75" r="7.2"/>
<circle cx="1101.03" cy="370.59" r="7.2"/>
<circle cx="1101.15" cy="370.44" r="7.2"/>
<circle cx="1101.26" cy="370.28" r="7.2"/>
<circle cx="1101.38" cy="370.13" r="7.2"/>
<circle cx="1101.49" cy="369.97" r="7.2"/>
<circle cx="1101.61" cy="369.82" r="7.2"/>
<circle cx="1101.72" cy="369.66" r="7.2"/>
<circle cx="1101.84" cy="369.51" r="7.2"/>
<circle cx="1101.95" cy="369.35" r="7.2"/>
<circle cx="1102.07" cy="369.19" r="7.2"/>
<circle cx="1102.19" cy="369.04" r="7.2"/>
<circle cx="1102.3" cy="368.88" r="7.2"/>
<circle cx="1102.42" cy="368.73" r="7.2"/>
<circle cx="1102.54" cy="368.57" r="7.2"/>
<circle cx="1102.65" cy="368.42" r="7.2"/>
<circle cx="1102.77" cy="368.26" r="7.2"/>
<circle cx="1102.89" cy="368.11" r="7.2"/>
<circle cx="1103" cy="367.95" r="7.2"/>
<circle cx="1103.12" cy="367.8" r="7.2"/>
<circle cx="1103.24" cy="367.64" r="7.2"/>
<circle cx="1103.36" cy="367.49" r="7.2"/>
<circle cx="1103.48" cy="367.33" r="7.2"/>
<circle cx="1103.59" cy="367.17" r="7.2"/>
<circle cx="1103.71" cy="367.02" r="7.2"/>
<circle cx="1103.83" cy="366.86" r="7.2"/>
<circle cx="1103.95" cy="366.71" r="7.2"/>
<circle cx="1104.07" cy="366.55" r="7.2"/>
<circle cx="1104.19" cy="366.4" r="7.2"/>
<circle cx="1104.31" cy="366.26" r="7.2"/>
<circle cx="1104.43" cy="366.12" r="7.2"/>
<circle cx="1104.55" cy="365.98" r="7.2"/>
<circle cx="1104.67" cy="365.84" r="7.2"/>
<circle cx="1104.79" cy="365.7" r="7.2"/>
<circle cx="1104.91" cy="365.56" r="7.2"/>
<circle cx="1105.03" cy="365.41" r="7.2"/>
<circle cx="1105.15" cy="365.27" r="7.2"/>
<circle cx="1105.28" cy="365.13" r="7.2"/>
<circle cx="1105.4" cy="364.99" r="7.2"/>
<circle cx="1105.52" cy="364.85" r="7.2"/>
<circle cx="1105.64" cy="364.71" r="7.2"/>
<circle cx="1105.77" cy="364.57" r="7.2"/>
<circle cx="1105.89" cy="364.42" r="7.2"/>
<circle cx="1106.01" cy="364.28" r="7.2"/>
<circle cx="1106.13" cy="364.14" r="7.2"/>
<circle cx="1106.26" cy="364" r="7.2"/>
<circle cx="1106.38" cy="363.86" r="7.2"/>
<circle cx="1106.51" cy="363.72" r="7.2"/>
<circle cx="1106.63" cy="363.57" r="7.2"/>
<circle cx="1106.75" cy="363.43" r="7.2"/>
<circle cx="1106.88" cy="363.29" r="7.2"/>
<circle cx="1107" cy="363.15" r="7.2"/>
<circle cx="1107.13" cy="363.01" r="7.2"/>
<circle cx="1107.26" cy="362.87" r="7.2"/>
<circle cx="1107.38" cy="362.73" r="7.2"/>
<circle cx="1107.51" cy="362.58" r="7.2"/>
<circle cx="1107.63" cy="362.44" r="7.2"/>
<circle cx="1107.76" cy="362.3" r="7.2"/>
<circle cx="1107.89" cy="362.16" r="7.2"/>
<circle cx="1108.01" cy="362.02" r="7.2"/>
<circle cx="1108.14" cy="361.88" r="7.2"/>
<circle cx="1108.27" cy="361.74" r="7.2"/>
<circle cx="1108.4" cy="361.59" r="7.2"/>
<circle cx="1108.53" cy="361.45" r="7.2"/>
<circle cx="1108.65" cy="361.31" r="7.2"/>
<circle cx="1108.78" cy="361.17" r="7.2"/>
<circle cx="1108.91" cy="361.03" r="7.2"/>
<circle cx="1109.04" cy="360.89" r="7.2"/>
<circle cx="1109.17" cy="360.74" r="7.2"/>
<circle cx="1109.3" cy="360.6" r="7.2"/>
<circle cx="1109.43" cy="360.46" r="7.2"/>
<circle cx="1109.56" cy="360.32" r="7.2"/>
<circle cx="1109.69" cy="360.18" r="7.2"/>
<circle cx="1109.82" cy="360.04" r="7.2"/>
<circle cx="1109.95" cy="359.9" r="7.2"/>
<circle cx="1110.09" cy="359.75" r="7.2"/>
<circle cx="1110.22" cy="359.61" r="7.2"/>
<circle cx="1110.35" cy="359.47" r="7.2"/>
<circle cx="1110.48" cy="359.33" r="7.2"/>
<circle cx="1110.62" cy="359.19" r="7.2"/>
<circle cx="1110.75" cy="359.05" r="7.2"/>
<circle cx="1110.88" cy="358.91" r="7.2"/>
<circle cx="1111.02" cy="358.76" r="7.2"/>
<circle cx="1111.15" cy="358.62" r="7.2"/>
<circle cx="1111.28" cy="358.44" r="7.2"/>
<circle cx="1111.42" cy="358.22" r="7.2"/>
<circle cx="1111.55" cy="358" r="7.2"/>
<circle cx="1111.69" cy="357.78" r="7.2"/>
<circle cx="1111.82" cy="357.56" r="7.2"/>
<circle cx="1111.96" cy="357.34" r="7.2"/>
<circle cx="1112.1" cy="357.12" r="7.2"/>
<circle cx="1112.23" cy="356.9" r="7.2"/>
<circle cx="1112.37" cy="356.68" r="7.2"/>
<circle cx="1112.51" cy="356.46" r="7.2"/>
<circle cx="1112.65" cy="356.24" r="7.2"/>
<circle cx="1112.78" cy="356.02" r="7.2"/>
<circle cx="1112.92" cy="355.8" r="7.2"/>
<circle cx="1113.06" cy="355.58" r="7.2"/>
<circle cx="1113.2" cy="355.36" r="7.2"/>
<circle cx="1113.34" cy="355.14" r="7.2"/>
<circle cx="1113.48" cy="354.92" r="7.2"/>
<circle cx="1113.62" cy="354.7" r="7.2"/>
<circle cx="1113.76" cy="354.48" r="7.2"/>
<circle cx="1113.9" cy="354.26" r="7.2"/>
<circle cx="1114.04" cy="354.04" r="7.2"/>
<circle cx="1114.18" cy="353.82" r="7.2"/>
<circle cx="1114.32" cy="353.6" r="7.2"/>
<circle cx="1114.47" cy="353.38" r="7.2"/>
<circle cx="1114.61" cy="353.16" r="7.2"/>
<circle cx="1114.75" cy="352.94" r="7.2"/>
<circle cx="1114.89" cy="352.72" r="7.2"/>
<circle cx="1115.04" cy="352.5" r="7.2"/>
<circle cx="1115.18" cy="352.28" r="7.2"/>
<circle cx="1115.33" cy="352.06" r="7.2"/>
<circle cx="1115.47" cy="351.84" r="7.2"/>
<circle cx="1115.62" cy="351.62" r="7.2"/>
<circle cx="1115.76" cy="351.4" r="7.2"/>
<circle cx="1115.91" cy="351.18" r="7.2"/>
<circle cx="1116.06" cy="350.96" r="7.2"/>
<circle cx="1116.2" cy="350.74" r="7.2"/>
<circle cx="1116.35" cy="350.53" r="7.2"/>
<circle cx="1116.5" cy="350.34" r="7.2"/>
<circle cx="1116.65" cy="350.14" r="7.2"/>
<circle cx="1116.79" cy="349.95" r="7.2"/>
<circle cx="1116.94" cy="349.76" r="7.2"/>
<circle cx="1117.09" cy="349.56" r="7.2"/>
<circle cx="1117.24" cy="349.37" r="7.2"/>
<circle cx="1117.39" cy="349.18" r="7.2"/>
<circle cx="1117.54" cy="348.99" r="7.2"/>
<circle cx="1117.69" cy="348.79" r="7.2"/>
<circle cx="1117.84" cy="348.6" r="7.2"/>
<circle cx="1118" cy="348.41" r="7.2"/>
<circle cx="1118.15" cy="348.21" r="7.2"/>
<circle cx="1118.3" cy="348.02" r="7.2"/>
<circle cx="1118.46" cy="347.83" r="7.2"/>
<circle cx="1118.61" cy="347.63" r="7.2"/>
<circle cx="1118.76" cy="347.44" r="7.2"/>
<circle cx="1118.92" cy="347.25" r="7.2"/>
<circle cx="1119.07" cy="347.05" r="7.2"/>
<circle cx="1119.23" cy="346.86" r="7.2"/>
<circle cx="1119.38" cy="346.67" r="7.2"/>
<circle cx="1119.54" cy="346.47" r="7.2"/>
<circle cx="1119.7" cy="346.28" r="7.2"/>
<circle cx="1119.86" cy="346.09" r="7.2"/>
<circle cx="1120.01" cy="345.89" r="7.2"/>
<circle cx="1120.17" cy="345.7" r="7.2"/>
<circle cx="1120.33" cy="345.51" r="7.2"/>
<circle cx="1120.49" cy="345.31" r="7.2"/>
<circle cx="1120.65" cy="345.12" r="7.2"/>
<circle cx="1120.81" cy="344.93" r="7.2"/>
<circle cx="1120.97" cy="344.73" r="7.2"/>
<circle cx="1121.13" cy="344.54" r="7.2"/>
<circle cx="1121.3" cy="344.35" r="7.2"/>
<circle cx="1121.46" cy="344.15" r="7.2"/>
<circle cx="1121.62" cy="343.96" r="7.2"/>
<circle cx="1121.78" cy="343.77" r="7.2"/>
<circle cx="1121.95" cy="343.57" r="7.2"/>
<circle cx="1122.11" cy="343.38" r="7.2"/>
<circle cx="1122.28" cy="343.19" r="7.2"/>
<circle cx="1122.44" cy="342.99" r="7.2"/>
<circle cx="1122.61" cy="342.8" r="7.2"/>
<circle cx="1122.78" cy="342.58" r="7.2"/>
<circle cx="1122.95" cy="342.34" r="7.2"/>
<circle cx="1123.11" cy="342.1" r="7.2"/>
<circle cx="1123.28" cy="341.86" r="7.2"/>
<circle cx="1123.45" cy="341.62" r="7.2"/>
<circle cx="1123.62" cy="341.38" r="7.2"/>
<circle cx="1123.79" cy="341.14" r="7.2"/>
<circle cx="1123.96" cy="340.9" r="7.2"/>
<circle cx="1124.13" cy="340.66" r="7.2"/>
<circle cx="1124.31" cy="340.42" r="7.2"/>
<circle cx="1124.48" cy="340.18" r="7.2"/>
<circle cx="1124.65" cy="339.94" r="7.2"/>
<circle cx="1124.83" cy="339.7" r="7.2"/>
<circle cx="1125" cy="339.46" r="7.2"/>
<circle cx="1125.18" cy="339.22" r="7.2"/>
<circle cx="1125.35" cy="338.98" r="7.2"/>
<circle cx="1125.53" cy="338.74" r="7.2"/>
<circle cx="1125.71" cy="338.5" r="7.2"/>
<circle cx="1125.89" cy="338.26" r="7.2"/>
<circle cx="1126.07" cy="338.02" r="7.2"/>
<circle cx="1126.25" cy="337.78" r="7.2"/>
<circle cx="1126.43" cy="337.54" r="7.2"/>
<circle cx="1126.61" cy="337.3" r="7.2"/>
<circle cx="1126.79" cy="337.06" r="7.2"/>
<circle cx="1126.97" cy="336.82" r="7.2"/>
<circle cx="1127.15" cy="336.58" r="7.2"/>
<circle cx="1127.34" cy="336.34" r="7.2"/>
<circle cx="1127.52" cy="336.1" r="7.2"/>
<circle cx="1127.71" cy="335.86" r="7.2"/>
<circle cx="1127.89" cy="335.62" r="7.2"/>
<circle cx="1128.08" cy="335.38" r="7.2"/>
<circle cx="1128.27" cy="335.14" r="7.2"/>
<circle cx="1128.46" cy="334.9" r="7.2"/>
<circle cx="1128.64" cy="334.66" r="7.2"/>
<circle cx="1128.83" cy="334.43" r="7.2"/>
<circle cx="1129.03" cy="334.2" r="7.2"/>
<circle cx="1129.22" cy="333.96" r="7.2"/>
<circle cx="1129.41" cy="333.73" r="7.2"/>
<circle cx="1129.6" cy="333.5" r="7.2"/>
<circle cx="1129.8" cy="333.27" r="7.2"/>
<circle cx="1129.99" cy="333.03" r="7.2"/>
<circle cx="1130.19" cy="332.8" r="7.2"/>
<circle cx="1130.38" cy="332.57" r="7.2"/>
<circle cx="1130.58" cy="332.33" r="7.2"/>
<circle cx="1130.78" cy="332.1" r="7.2"/>
<circle cx="1130.98" cy="331.87" r="7.2"/>
<circle cx="1131.18" cy="331.63" r="7.2"/>
<circle cx="1131.38" cy="331.4" r="7.2"/>
<circle cx="1131.58" cy="331.17" r="7.2"/>
<circle cx="1131.78" cy="330.93" r="7.2"/>
<circle cx="1131.99" cy="330.7" r="7.2"/>
<circle cx="1132.19" cy="330.47" r="7.2"/>
<circle cx="1132.4" cy="330.24" r="7.2"/>
<circle cx="1132.61" cy="330" r="7.2"/>
<circle cx="1132.81" cy="329.77" r="7.2"/>
<circle cx="1133.02" cy="329.54" r="7.2"/>
<circle cx="1133.23" cy="329.3" r="7.2"/>
<circle cx="1133.44" cy="329.07" r="7.2"/>
<circle cx="1133.65" cy="328.84" r="7.2"/>
<circle cx="1133.87" cy="328.6" r="7.2"/>
<circle cx="1134.08" cy="328.37" r="7.2"/>
<circle cx="1134.3" cy="328.14" r="7.2"/>
<circle cx="1134.51" cy="327.91" r="7.2"/>
<circle cx="1134.73" cy="327.67" r="7.2"/>
<circle cx="1134.95" cy="327.44" r="7.2"/>
<circle cx="1135.17" cy="327.21" r="7.2"/>
<circle cx="1135.39" cy="326.97" r="7.2"/>
<circle cx="1135.61" cy="326.61" r="7.2"/>
<circle cx="1135.83" cy="326.11" r="7.2"/>
<circle cx="1136.06" cy="325.62" r="7.2"/>
<circle cx="1136.28" cy="325.12" r="7.2"/>
<circle cx="1136.51" cy="324.63" r="7.2"/>
<circle cx="1136.74" cy="324.13" r="7.2"/>
<circle cx="1136.97" cy="323.64" r="7.2"/>
<circle cx="1137.2" cy="323.14" r="7.2"/>
<circle cx="1137.43" cy="322.65" r="7.2"/>
<circle cx="1137.66" cy="322.15" r="7.2"/>
<circle cx="1137.9" cy="321.66" r="7.2"/>
<circle cx="1138.13" cy="321.16" r="7.2"/>
<circle cx="1138.37" cy="320.67" r="7.2"/>
<circle cx="1138.61" cy="320.17" r="7.2"/>
<circle cx="1138.85" cy="319.68" r="7.2"/>
<circle cx="1139.09" cy="319.18" r="7.2"/>
<circle cx="1139.33" cy="318.76" r="7.2"/>
<circle cx="1139.58" cy="318.42" r="7.2"/>
<circle cx="1139.82" cy="318.07" r="7.2"/>
<circle cx="1140.07" cy="317.73" r="7.2"/>
<circle cx="1140.32" cy="317.38" r="7.2"/>
<circle cx="1140.57" cy="317.04" r="7.2"/>
<circle cx="1140.82" cy="316.69" r="7.2"/>
<circle cx="1141.08" cy="316.35" r="7.2"/>
<circle cx="1141.33" cy="316" r="7.2"/>
<circle cx="1141.59" cy="315.66" r="7.2"/>
<circle cx="1141.85" cy="315.32" r="7.2"/>
<circle cx="1142.11" cy="314.97" r="7.2"/>
<circle cx="1142.37" cy="314.63" r="7.2"/>
<circle cx="1142.63" cy="314.28" r="7.2"/>
<circle cx="1142.9" cy="313.94" r="7.2"/>
<circle cx="1143.17" cy="313.59" r="7.2"/>
<circle cx="1143.44" cy="313.25" r="7.2"/>
<circle cx="1143.71" cy="312.9" r="7.2"/>
<circle cx="1143.98" cy="312.56" r="7.2"/>
<circle cx="1144.26" cy="312.21" r="7.2"/>
<circle cx="1144.53" cy="311.87" r="7.2"/>
<circle cx="1144.81" cy="311.53" r="7.2"/>
<circle cx="1145.1" cy="311.18" r="7.2"/>
<circle cx="1145.38" cy="310.79" r="7.2"/>
<circle cx="1145.66" cy="310.35" r="7.2"/>
<circle cx="1145.95" cy="309.91" r="7.2"/>
<circle cx="1146.24" cy="309.47" r="7.2"/>
<circle cx="1146.54" cy="309.03" r="7.2"/>
<circle cx="1146.83" cy="308.59" r="7.2"/>
<circle cx="1147.13" cy="308.15" r="7.2"/>
<circle cx="1147.43" cy="307.71" r="7.2"/>
<circle cx="1147.73" cy="307.27" r="7.2"/>
<circle cx="1148.03" cy="306.83" r="7.2"/>
<circle cx="1148.34" cy="306.39" r="7.2"/>
<circle cx="1148.65" cy="305.95" r="7.2"/>
<circle cx="1148.96" cy="305.51" r="7.2"/>
<circle cx="1149.28" cy="305.07" r="7.2"/>
<circle cx="1149.59" cy="304.63" r="7.2"/>
<circle cx="1149.92" cy="304.19" r="7.2"/>
<circle cx="1150.24" cy="303.75" r="7.2"/>
<circle cx="1150.57" cy="303.31" r="7.2"/>
<circle cx="1150.89" cy="302.72" r="7.2"/>
<circle cx="1151.23" cy="302" r="7.2"/>
<circle cx="1151.56" cy="301.28" r="7.2"/>
<circle cx="1151.9" cy="300.56" r="7.2"/>
<circle cx="1152.24" cy="299.84" r="7.2"/>
<circle cx="1152.59" cy="299.12" r="7.2"/>
<circle cx="1152.94" cy="298.4" r="7.2"/>
<circle cx="1153.29" cy="297.68" r="7.2"/>
<circle cx="1153.65" cy="296.96" r="7.2"/>
<circle cx="1154.01" cy="296.24" r="7.2"/>
<circle cx="1154.37" cy="295.52" r="7.2"/>
<circle cx="1154.74" cy="294.93" r="7.2"/>
<circle cx="1155.11" cy="294.46" r="7.2"/>
<circle cx="1155.48" cy="294" r="7.2"/>
<circle cx="1155.86" cy="293.53" r="7.2"/>
<circle cx="1156.25" cy="293.06" r="7.2"/>
<circle cx="1156.63" cy="292.6" r="7.2"/>
<circle cx="1157.03" cy="292.13" r="7.2"/>
<circle cx="1157.42" cy="291.67" r="7.2"/>
<circle cx="1157.83" cy="291.2" r="7.2"/>
<circle cx="1158.23" cy="290.73" r="7.2"/>
<circle cx="1158.65" cy="290.27" r="7.2"/>
<circle cx="1159.06" cy="289.8" r="7.2"/>
<circle cx="1159.49" cy="289.33" r="7.2"/>
<circle cx="1159.91" cy="288.87" r="7.2"/>
<circle cx="1160.35" cy="288.4" r="7.2"/>
<circle cx="1160.79" cy="287.94" r="7.2"/>
<circle cx="1161.23" cy="287.47" r="7.2"/>
<circle cx="1161.68" cy="286.8" r="7.2"/>
<circle cx="1162.14" cy="285.92" r="7.2"/>
<circle cx="1162.61" cy="285.04" r="7.2"/>
<circle cx="1163.08" cy="284.16" r="7.2"/>
<circle cx="1163.56" cy="283.28" r="7.2"/>
<circle cx="1164.04" cy="282.4" r="7.2"/>
<circle cx="1164.54" cy="281.51" r="7.2"/>
<circle cx="1165.04" cy="280.63" r="7.2"/>
<circle cx="1165.55" cy="279.75" r="7.2"/>
<circle cx="1166.07" cy="278.82" r="7.2"/>
<circle cx="1166.59" cy="277.83" r="7.2"/>
<circle cx="1167.13" cy="276.84" r="7.2"/>
<circle cx="1167.67" cy="275.85" r="7.2"/>
<circle cx="1168.23" cy="274.86" r="7.2"/>
<circle cx="1168.79" cy="273.87" r="7.2"/>
<circle cx="1169.37" cy="272.88" r="7.2"/>
<circle cx="1169.96" cy="271.88" r="7.2"/>
<circle cx="1170.56" cy="270.73" r="7.2"/>
<circle cx="1171.17" cy="269.41" r="7.2"/>
<circle cx="1171.79" cy="268.09" r="7.2"/>
<circle cx="1172.43" cy="266.77" r="7.2"/>
<circle cx="1173.08" cy="265.45" r="7.2"/>
<circle cx="1173.74" cy="264.13" r="7.2"/>
<circle cx="1174.43" cy="263.07" r="7.2"/>
<circle cx="1175.12" cy="262.28" r="7.2"/>
<circle cx="1175.84" cy="261.48" r="7.2"/>
<circle cx="1176.57" cy="260.69" r="7.2"/>
<circle cx="1177.32" cy="259.9" r="7.2"/>
<circle cx="1178.1" cy="259.11" r="7.2"/>
<circle cx="1178.89" cy="258.32" r="7.2"/>
<circle cx="1179.71" cy="257.52" r="7.2"/>
<circle cx="1180.55" cy="256.73" r="7.2"/>
<circle cx="1181.42" cy="255.94" r="7.2"/>
<circle cx="1182.32" cy="254.22" r="7.2"/>
<circle cx="1183.25" cy="251.58" r="7.2"/>
<circle cx="1184.21" cy="248.94" r="7.2"/>
<circle cx="1185.2" cy="246.63" r="7.2"/>
<circle cx="1186.23" cy="244.65" r="7.2"/>
<circle cx="1187.31" cy="242.67" r="7.2"/>
<circle cx="1188.43" cy="240.68" r="7.2"/>
<circle cx="1189.6" cy="239.03" r="7.2"/>
<circle cx="1190.83" cy="237.71" r="7.2"/>
<circle cx="1192.12" cy="236.39" r="7.2"/>
<circle cx="1193.47" cy="235.07" r="7.2"/>
<circle cx="1194.9" cy="233.75" r="7.2"/>
<circle cx="1196.42" cy="232.43" r="7.2"/>
<circle cx="1198.04" cy="229.79" r="7.2"/>
<circle cx="1199.77" cy="225.83" r="7.2"/>
<circle cx="1201.64" cy="223.05" r="7.2"/>
<circle cx="1203.66" cy="221.47" r="7.2"/>
<circle cx="1205.87" cy="219.88" r="7.2"/>
<circle cx="1208.31" cy="218.3" r="7.2"/>
<circle cx="1211.05" cy="216.72" r="7.2"/>
<circle cx="1214.16" cy="214.6" r="7.2"/>
<circle cx="1217.77" cy="211.96" r="7.2"/>
<circle cx="1222.12" cy="209.3" r="7.2"/>
<circle cx="1227.58" cy="204.3" r="7.2"/>
<circle cx="1235.06" cy="198.85" r="7.2"/>
<circle cx="1247.29" cy="179.91" r="7.2"/>
</g>
<path class="l" d="M863.26 764.16H1229.54M863.26 764.16v19.2M924.3 764.16v19.2M985.35 764.16v19.2M1046.4 764.16v19.2M1107.45 764.16v19.2M1168.5 764.16v19.2M1229.54 764.16v19.2"/>
<text class="m" x="863.26" y="834.28">-3</text>
<text class="m" x="924.3" y="834.28">-2</text>
<text class="m" x="985.35" y="834.28">-1</text>
<text class="m" x="1046.4" y="834.28">0</text>
<text class="m" x="1107.45" y="834.28">1</text>
<text class="m" x="1168.5" y="834.28">2</text>
<text class="m" x="1229.54" y="834.28">3</text>
<path class="l" d="M829.44 680.5V225.6M829.44 680.5h-19.2M829.44 589.52h-19.2M829.44 498.54h-19.2M829.44 407.56h-19.2M829.44 316.58h-19.2M829.44 225.6h-19.2"/>
<text class="m" transform="translate(783.36 681.1) rotate(-90)">-80</text>
<text class="m" transform="translate(783.36 590.12) rotate(-90)">-60</text>
<text class="m" transform="translate(783.36 499.14) rotate(-90)">-40</text>
<text class="m" transform="translate(783.36 408.16) rotate(-90)">-20</text>
<text class="m" transform="translate(783.36 317.18) rotate(-90)">0</text>
<text class="m" transform="translate(783.36 226.2) rotate(-90)">20</text>
<rect class="l" x="829.44" y="157.44" width="433.92" height="606.72"/>
<clipPath id="cq"><rect x="829.44" y="157.44" width="433.92" height="606.72"/></clipPath>
<path class="d" clip-path="url(#cq)" d="M829.44 703.35L1263.36 168.52"/>
<text class="m" x="1046.4" y="911.08">Quantiles of Standard Normal</text>
<text class="m" transform="translate(706.56 461.4) rotate(-90)">t*</text>
</g>
</svg>
</body></html>
